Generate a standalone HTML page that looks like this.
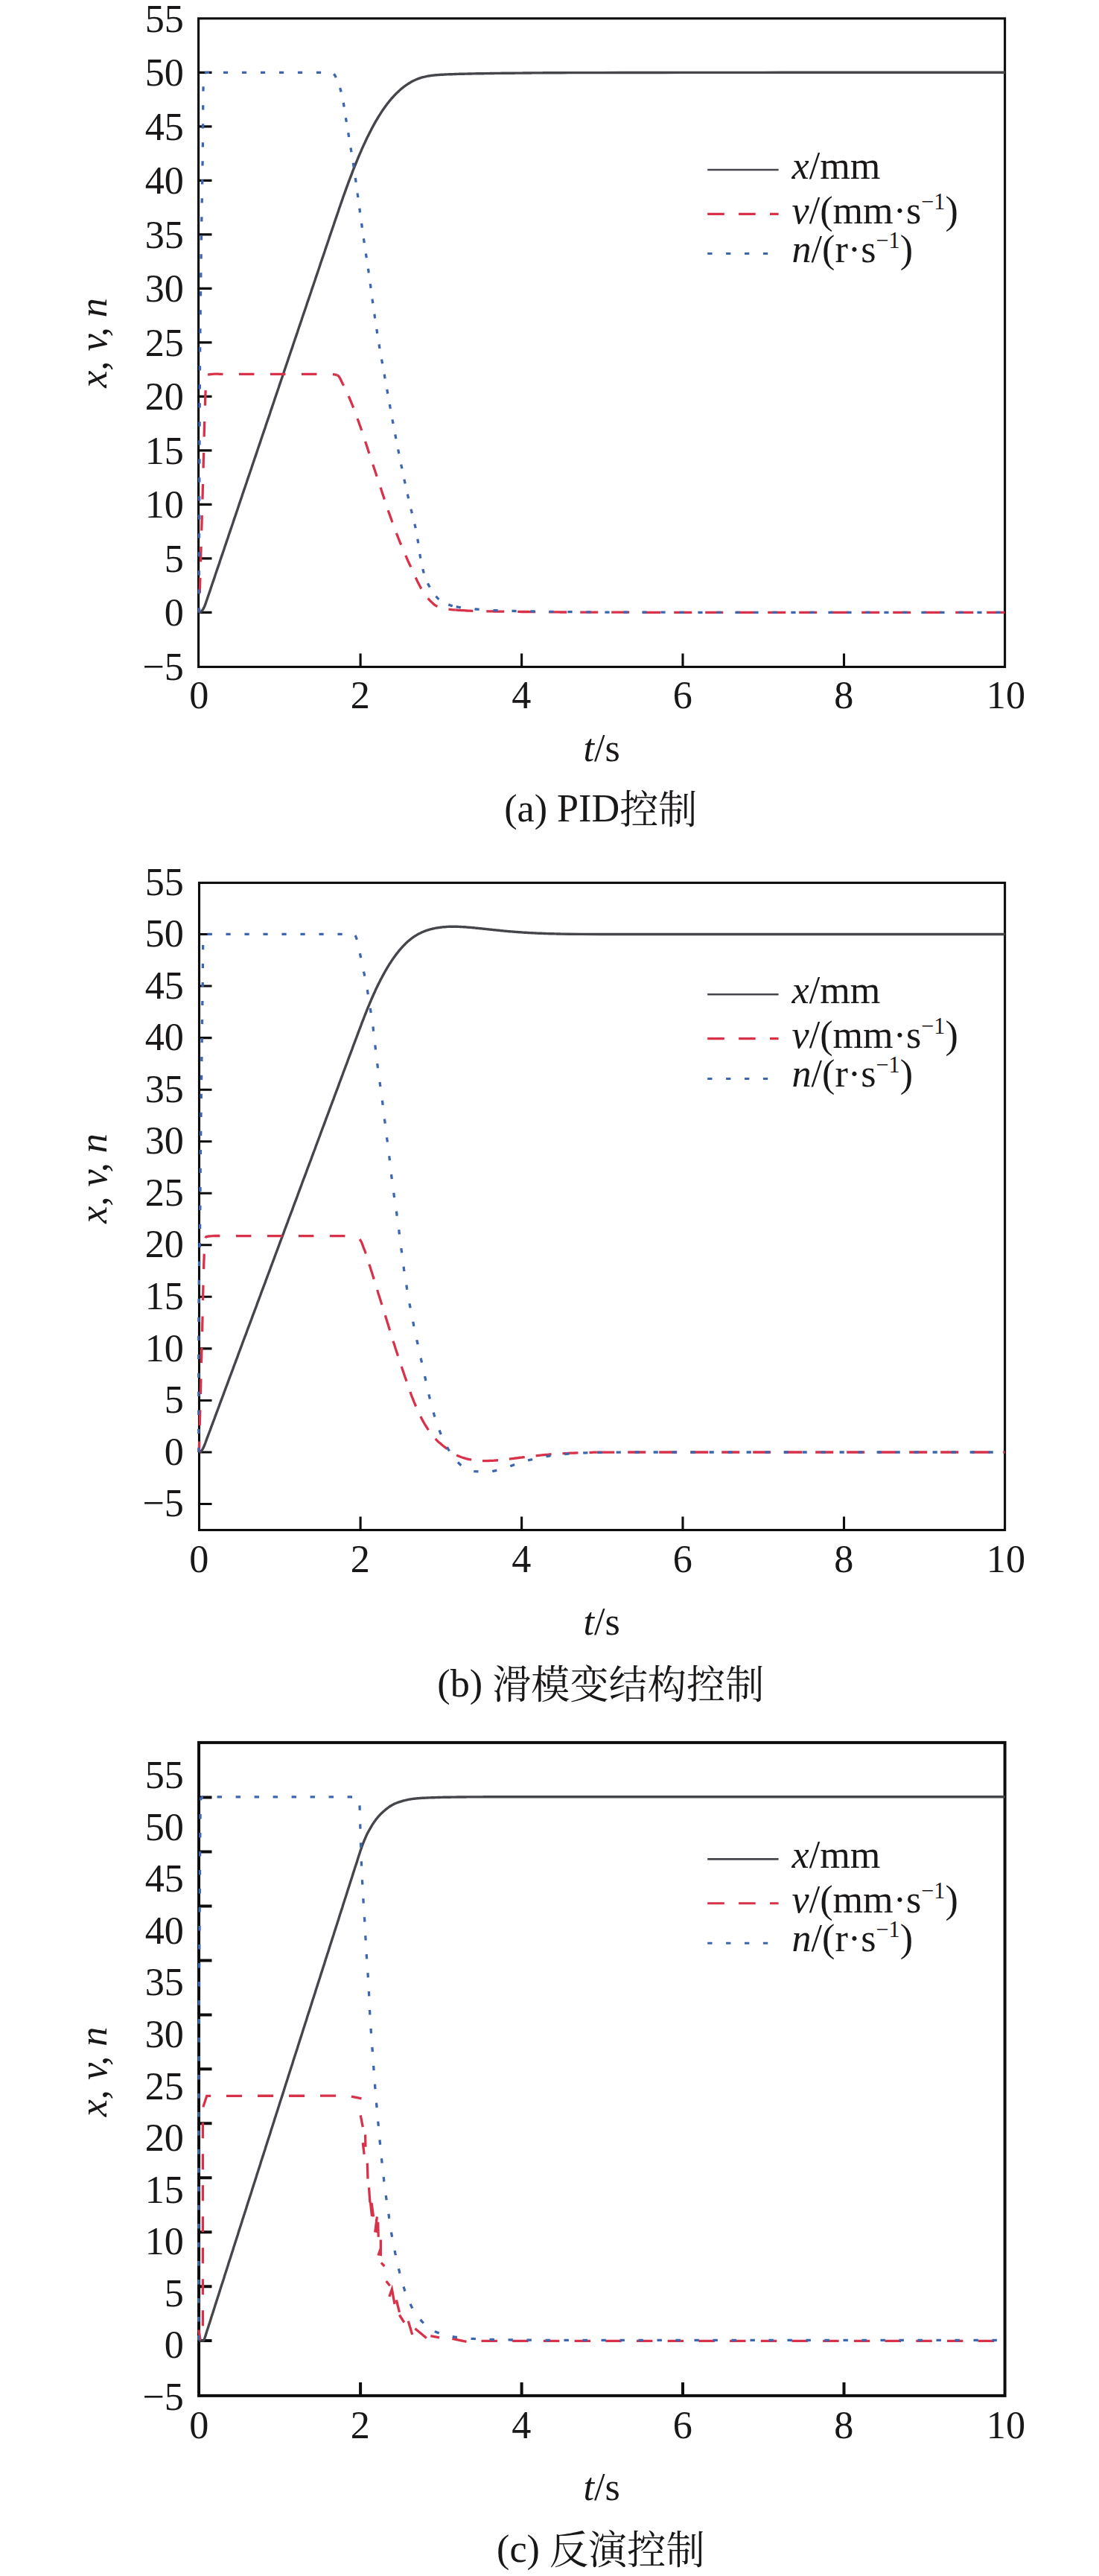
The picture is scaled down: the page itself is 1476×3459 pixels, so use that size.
<!DOCTYPE html>
<html lang="zh"><head><meta charset="utf-8"><title>figure</title>
<style>html,body{margin:0;padding:0;background:#fff}svg{display:block}</style></head>
<body>
<svg width="1476" height="3459" viewBox="0 0 1476 3459" font-family="'Liberation Serif', 'Noto Serif CJK SC', serif" font-size="53.5" fill="#1a1718">
<rect width="1476" height="3459" fill="#fff"/>
<rect x="266.6" y="24.8" width="1083.00" height="870.7" fill="none" stroke="#0d0d0d" stroke-width="3.1"/>
<path d="M266.6,822.4H284.5 M266.6,749.9H284.5 M266.6,677.4H284.5 M266.6,604.9H284.5 M266.6,532.4H284.5 M266.6,459.9H284.5 M266.6,387.4H284.5 M266.6,314.9H284.5 M266.6,242.4H284.5 M266.6,169.9H284.5 M266.6,97.4H284.5 M484.1,895.5v-18 M700.6,895.5v-18 M917.0,895.5v-18 M1133.5,895.5v-18 " stroke="#0d0d0d" stroke-width="3.1" fill="none"/>
<path d="M267.3,822.4 L268.4,822.3 L269.5,821.8 L270.5,820.9 L271.6,819.7 L272.7,818.1 L273.8,816.1 L274.9,813.7 L276.0,810.9 L277.0,807.8 L278.1,804.7 L279.2,801.5 L280.3,798.3 L281.4,795.1 L282.5,791.9 L283.5,788.7 L284.6,785.5 L285.7,782.3 L286.8,779.1 L287.9,775.9 L288.9,772.7 L290.0,769.5 L291.1,766.3 L292.2,763.1 L293.3,759.9 L294.4,756.7 L295.4,753.5 L296.5,750.3 L297.6,747.1 L298.7,743.9 L299.8,740.7 L300.9,737.5 L301.9,734.3 L303.0,731.1 L304.1,727.9 L305.2,724.7 L306.3,721.5 L307.3,718.3 L308.4,715.1 L309.5,711.9 L310.6,708.7 L311.7,705.5 L312.8,702.3 L313.8,699.1 L314.9,695.9 L316.0,692.7 L317.1,689.5 L318.2,686.3 L319.3,683.1 L320.3,679.9 L321.4,676.6 L322.5,673.4 L323.6,670.2 L324.7,667.0 L325.7,663.8 L326.8,660.6 L327.9,657.4 L329.0,654.2 L330.1,651.0 L331.2,647.8 L332.2,644.6 L333.3,641.4 L334.4,638.2 L335.5,635.0 L336.6,631.8 L337.7,628.6 L338.7,625.4 L339.8,622.2 L340.9,619.0 L342.0,615.8 L343.1,612.6 L344.2,609.4 L345.2,606.2 L346.3,603.0 L347.4,599.8 L348.5,596.6 L349.6,593.4 L350.6,590.2 L351.7,587.0 L352.8,583.8 L353.9,580.6 L355.0,577.4 L356.1,574.2 L357.1,571.0 L358.2,567.8 L359.3,564.6 L360.4,561.4 L361.5,558.2 L362.6,555.0 L363.6,551.8 L364.7,548.6 L365.8,545.4 L366.9,542.2 L368.0,539.0 L369.0,535.8 L370.1,532.6 L371.2,529.4 L372.3,526.2 L373.4,523.0 L374.5,519.8 L375.5,516.6 L376.6,513.4 L377.7,510.2 L378.8,507.0 L379.9,503.8 L381.0,500.6 L382.0,497.4 L383.1,494.2 L384.2,491.0 L385.3,487.8 L386.4,484.6 L387.4,481.4 L388.5,478.2 L389.6,475.0 L390.7,471.8 L391.8,468.6 L392.9,465.4 L393.9,462.2 L395.0,459.0 L396.1,455.8 L397.2,452.6 L398.3,449.4 L399.4,446.2 L400.4,443.0 L401.5,439.8 L402.6,436.6 L403.7,433.4 L404.8,430.2 L405.8,427.0 L406.9,423.8 L408.0,420.6 L409.1,417.4 L410.2,414.2 L411.3,411.0 L412.3,407.8 L413.4,404.6 L414.5,401.4 L415.6,398.2 L416.7,395.0 L417.8,391.8 L418.8,388.6 L419.9,385.4 L421.0,382.2 L422.1,379.0 L423.2,375.8 L424.2,372.6 L425.3,369.4 L426.4,366.2 L427.5,363.0 L428.6,359.8 L429.7,356.5 L430.7,353.3 L431.8,350.1 L432.9,346.9 L434.0,343.7 L435.1,340.5 L436.2,337.3 L437.2,334.1 L438.3,330.9 L439.4,327.7 L440.5,324.5 L441.6,321.3 L442.6,318.1 L443.7,314.9 L444.8,311.7 L445.9,308.5 L447.0,305.3 L448.1,302.1 L449.1,298.9 L450.2,295.8 L451.3,292.6 L452.4,289.4 L453.5,286.2 L454.6,283.0 L455.6,279.8 L456.7,276.7 L457.8,273.5 L458.9,270.4 L460.0,267.3 L461.0,264.3 L462.1,261.2 L463.2,258.2 L464.3,255.2 L465.4,252.2 L466.5,249.2 L467.5,246.3 L468.6,243.3 L469.7,240.5 L470.8,237.6 L471.9,234.8 L473.0,231.9 L474.0,229.2 L475.1,226.4 L476.2,223.7 L477.3,221.0 L478.4,218.3 L479.5,215.6 L480.5,213.0 L481.6,210.4 L482.7,207.9 L483.8,205.4 L484.9,202.9 L485.9,200.4 L487.0,198.0 L488.1,195.6 L489.2,193.2 L490.3,190.9 L491.4,188.6 L492.4,186.3 L493.5,184.1 L494.6,181.9 L495.7,179.7 L496.8,177.6 L497.9,175.5 L498.9,173.4 L500.0,171.4 L501.1,169.3 L502.2,167.4 L503.3,165.4 L504.3,163.5 L505.4,161.7 L506.5,159.8 L507.6,158.0 L508.7,156.2 L509.8,154.5 L510.8,152.8 L511.9,151.1 L513.0,149.4 L514.1,147.8 L515.2,146.3 L516.3,144.7 L517.3,143.2 L518.4,141.7 L519.5,140.3 L520.6,138.8 L521.7,137.5 L522.7,136.1 L523.8,134.8 L524.9,133.5 L526.0,132.2 L527.1,131.0 L528.2,129.8 L529.2,128.6 L530.3,127.5 L531.4,126.3 L532.5,125.3 L533.6,124.2 L534.7,123.2 L535.7,122.2 L536.8,121.2 L537.9,120.3 L539.0,119.3 L540.1,118.4 L541.1,117.6 L542.2,116.7 L543.3,115.9 L544.4,115.1 L545.5,114.3 L546.6,113.6 L547.6,112.9 L548.7,112.2 L549.8,111.5 L550.9,110.9 L552.0,110.2 L553.1,109.6 L554.1,109.1 L555.2,108.5 L556.3,108.0 L557.4,107.5 L558.5,107.0 L559.5,106.5 L560.6,106.1 L561.7,105.7 L562.8,105.3 L563.9,104.9 L565.0,104.5 L566.0,104.2 L567.1,103.9 L568.2,103.6 L569.3,103.3 L570.4,103.1 L571.5,102.8 L572.5,102.6 L573.6,102.4 L574.7,102.2 L575.8,102.0 L576.9,101.8 L577.9,101.7 L579.0,101.5 L580.1,101.4 L581.2,101.2 L582.3,101.1 L583.4,101.0 L584.4,100.9 L585.5,100.8 L586.6,100.7 L587.7,100.6 L588.8,100.5 L589.9,100.5 L590.9,100.4 L592.0,100.3 L593.1,100.3 L594.2,100.2 L595.3,100.2 L596.3,100.1 L597.4,100.0 L598.5,100.0 L599.6,99.9 L600.7,99.9 L601.8,99.9 L602.8,99.8 L603.9,99.8 L605.0,99.7 L606.1,99.7 L607.2,99.7 L608.3,99.6 L609.3,99.6 L610.4,99.5 L611.5,99.5 L612.6,99.5 L613.7,99.4 L614.8,99.4 L615.8,99.4 L616.9,99.3 L618.0,99.3 L619.1,99.3 L620.2,99.3 L621.2,99.2 L622.3,99.2 L623.4,99.2 L624.5,99.1 L625.6,99.1 L626.7,99.1 L627.7,99.1 L628.8,99.0 L629.9,99.0 L631.0,99.0 L632.1,99.0 L633.2,99.0 L634.2,98.9 L635.3,98.9 L636.4,98.9 L637.5,98.9 L638.6,98.9 L639.6,98.8 L640.7,98.8 L641.8,98.8 L642.9,98.8 L644.0,98.8 L645.1,98.7 L646.1,98.7 L647.2,98.7 L648.3,98.7 L649.4,98.7 L650.5,98.6 L651.6,98.6 L652.6,98.6 L653.7,98.6 L654.8,98.6 L655.9,98.6 L657.0,98.6 L658.0,98.5 L659.1,98.5 L660.2,98.5 L661.3,98.5 L662.4,98.5 L663.5,98.5 L664.5,98.4 L665.6,98.4 L666.7,98.4 L667.8,98.4 L668.9,98.4 L670.0,98.4 L671.0,98.4 L672.1,98.4 L673.2,98.3 L674.3,98.3 L675.4,98.3 L676.4,98.3 L677.5,98.3 L678.6,98.3 L679.7,98.3 L680.8,98.3 L681.9,98.2 L682.9,98.2 L684.0,98.2 L685.1,98.2 L686.2,98.2 L687.3,98.2 L688.4,98.2 L689.4,98.2 L690.5,98.2 L691.6,98.1 L692.7,98.1 L693.8,98.1 L694.8,98.1 L695.9,98.1 L697.0,98.1 L698.1,98.1 L699.2,98.1 L700.3,98.1 L701.3,98.1 L702.4,98.0 L703.5,98.0 L704.6,98.0 L705.7,98.0 L706.8,98.0 L707.8,98.0 L708.9,98.0 L710.0,98.0 L711.1,98.0 L712.2,98.0 L713.2,98.0 L714.3,97.9 L715.4,97.9 L716.5,97.9 L717.6,97.9 L718.7,97.9 L719.7,97.9 L720.8,97.9 L721.9,97.9 L723.0,97.9 L724.1,97.9 L725.2,97.9 L726.2,97.9 L727.3,97.9 L728.4,97.9 L729.5,97.8 L730.6,97.8 L731.6,97.8 L732.7,97.8 L733.8,97.8 L734.9,97.8 L736.0,97.8 L737.1,97.8 L738.1,97.8 L739.2,97.8 L740.3,97.8 L741.4,97.8 L742.5,97.8 L743.6,97.8 L744.6,97.8 L745.7,97.8 L746.8,97.8 L747.9,97.8 L749.0,97.7 L750.1,97.7 L751.1,97.7 L752.2,97.7 L753.3,97.7 L754.4,97.7 L781.4,97.6 L808.5,97.6 L835.6,97.5 L862.6,97.5 L889.7,97.5 L916.7,97.4 L943.8,97.4 L970.9,97.4 L997.9,97.4 L1025.0,97.4 L1052.0,97.3 L1079.1,97.3 L1106.2,97.3 L1133.2,97.3 L1160.3,97.3 L1187.3,97.3 L1214.4,97.3 L1241.5,97.3 L1268.5,97.3 L1295.6,97.3 L1322.6,97.3 L1349.7,97.3" fill="none" stroke="#45464b" stroke-width="3.4" stroke-linejoin="round"/>
<path d="M267.5,822.4 L267.6,820.1 L267.6,817.8 L267.7,815.5 L267.8,813.3 L267.8,811.0 L267.9,808.7 L268.0,806.4 L268.0,804.1 L268.1,801.8 L268.2,799.5 L268.2,797.3 L268.3,795.0 L268.4,792.7 L268.4,790.4 L268.5,788.1 L268.6,785.8 L268.6,783.6 L268.7,781.3 L268.8,779.0 L268.8,776.7 L268.9,774.4 L269.0,772.1 L269.0,769.8 L269.1,767.6 L269.2,765.3 L269.2,763.0 L269.3,760.7 L269.4,758.4 L269.4,756.1 L269.5,753.8 L269.6,751.6 L269.6,749.3 L269.7,747.0 L269.8,744.7 L269.8,742.4 L269.9,740.1 L270.0,737.9 L270.0,735.6 L270.1,733.3 L270.2,731.0 L270.2,728.7 L270.3,726.4 L270.4,724.1 L270.4,721.9 L270.5,719.6 L270.6,717.3 L270.6,715.0 L270.7,712.7 L270.8,710.4 L270.8,708.1 L270.9,705.9 L271.0,703.6 L271.0,701.3 L271.1,699.0 L271.2,696.7 L271.2,694.4 L271.3,692.2 L271.4,689.9 L271.4,687.6 L271.5,685.3 L271.6,683.0 L271.6,680.7 L271.7,678.4 L271.8,676.2 L271.8,673.9 L271.9,671.6 L272.0,669.3 L272.0,667.0 L272.1,664.7 L272.2,662.4 L272.2,660.2 L272.3,657.9 L272.3,655.6 L272.4,653.3 L272.5,651.0 L272.5,648.7 L272.6,646.4 L272.7,644.2 L272.7,641.9 L272.8,639.6 L272.8,637.3 L272.9,635.0 L272.9,632.7 L273.0,630.4 L273.1,628.2 L273.1,625.9 L273.2,623.6 L273.2,621.3 L273.3,619.0 L273.3,616.7 L273.4,614.4 L273.5,612.2 L273.5,609.9 L273.6,607.6 L273.6,605.3 L273.7,603.0 L273.7,600.7 L273.8,598.5 L273.9,596.2 L273.9,593.9 L274.0,591.6 L274.0,589.3 L274.1,587.0 L274.2,584.7 L274.2,582.5 L274.3,580.2 L274.4,577.9 L274.4,575.6 L274.5,573.3 L274.5,571.0 L274.6,568.7 L274.7,566.5 L274.7,564.2 L274.8,561.9 L274.9,559.6 L275.0,557.3 L275.0,555.0 L275.1,552.7 L275.2,550.5 L275.3,548.2 L275.3,545.9 L275.4,543.6 L275.5,541.3 L275.6,539.0 L275.6,536.8 L275.7,534.5 L275.8,532.2 L275.9,529.9 L276.0,527.6 L276.1,525.3 L276.2,523.1 L276.3,520.8 L276.4,518.5 L276.4,516.2 L276.6,513.9 L276.7,511.6 L276.9,509.3 L277.2,506.8 L277.9,504.3 L278.8,503.3 L280.5,502.9 L282.8,502.6 L285.5,502.3 L288.1,502.2 L290.5,502.2 L292.8,502.2 L295.1,502.3 L297.4,502.3 L299.7,502.3 L302.0,502.3 L304.3,502.3 L306.5,502.3 L308.8,502.3 L311.1,502.3 L313.4,502.3 L315.7,502.3 L318.0,502.3 L320.3,502.3 L322.6,502.3 L324.8,502.3 L327.1,502.3 L329.4,502.3 L331.7,502.3 L334.0,502.3 L336.3,502.3 L338.6,502.3 L340.8,502.3 L343.1,502.3 L345.4,502.3 L347.7,502.3 L350.0,502.3 L352.3,502.3 L354.6,502.3 L356.8,502.3 L359.1,502.3 L361.4,502.3 L363.7,502.3 L366.0,502.3 L368.3,502.3 L370.6,502.3 L372.9,502.3 L375.1,502.3 L377.4,502.3 L379.7,502.3 L382.0,502.3 L384.3,502.3 L386.6,502.3 L388.9,502.3 L391.2,502.3 L393.4,502.3 L395.7,502.3 L398.0,502.3 L400.3,502.3 L402.6,502.3 L404.9,502.3 L407.2,502.3 L409.5,502.3 L411.7,502.3 L414.0,502.3 L416.3,502.3 L418.6,502.3 L420.9,502.3 L423.2,502.3 L425.5,502.3 L427.7,502.3 L430.0,502.3 L432.3,502.3 L434.6,502.3 L436.9,502.3 L439.1,502.3 L441.5,502.3 L443.9,502.4 L446.4,502.6 L448.8,502.9 L450.9,503.2 L452.7,503.6" fill="none" stroke="#d8324a" stroke-width="3.3" stroke-dasharray="20.5 21.5" stroke-dashoffset="16" stroke-linejoin="round"/>
<path d="M452.7,503.6 L454.2,504.5 L455.6,506.2 L456.9,508.3 L458.0,510.7 L459.1,513.0 L460.2,515.2 L461.3,517.2 L462.4,519.2 L463.4,521.2 L464.4,523.3 L465.3,525.4 L466.3,527.5 L467.2,529.6 L468.1,531.7 L469.0,533.8 L469.9,535.9 L470.8,538.0 L471.7,540.1 L472.5,542.2 L473.4,544.4 L474.2,546.5 L475.1,548.6 L475.9,550.7 L476.7,552.9 L477.5,555.0 L478.3,557.2 L479.1,559.3 L479.9,561.5 L480.6,563.6 L481.4,565.8 L482.2,567.9 L482.9,570.1 L483.7,572.2 L484.5,574.4 L485.2,576.5 L485.9,578.7 L486.7,580.9 L487.4,583.0 L488.1,585.2 L488.8,587.4 L489.5,589.6 L490.3,591.7 L491.0,593.9 L491.7,596.1 L492.4,598.2 L493.1,600.4 L493.8,602.6 L494.5,604.8 L495.2,606.9 L496.0,609.1 L496.7,611.3 L497.4,613.4 L498.1,615.6 L498.9,617.8 L499.6,620.0 L500.3,622.1 L501.0,624.3 L501.7,626.5 L502.4,628.6 L503.2,630.8 L503.9,633.0 L504.6,635.1 L505.3,637.3 L506.0,639.5 L506.8,641.7 L507.5,643.8 L508.2,646.0 L508.9,648.2 L509.6,650.3 L510.4,652.5 L511.1,654.7 L511.8,656.8 L512.5,659.0 L513.2,661.2 L513.9,663.4 L514.7,665.5 L515.4,667.7 L516.1,669.9 L516.8,672.0 L517.5,674.2 L518.3,676.4 L519.0,678.5 L519.7,680.7 L520.5,682.9 L521.2,685.0 L521.9,687.2 L522.7,689.4 L523.5,691.5 L524.2,693.7 L525.0,695.8 L525.8,698.0 L526.5,700.1 L527.3,702.3 L528.1,704.4 L528.9,706.6 L529.7,708.7 L530.5,710.9 L531.3,713.0 L532.1,715.1 L532.9,717.3 L533.8,719.4 L534.6,721.5 L535.4,723.7 L536.3,725.8 L537.1,727.9 L538.0,730.0 L538.9,732.1 L539.7,734.2 L540.6,736.3 L541.5,738.4 L542.4,740.5 L543.3,742.6 L544.2,744.7 L545.2,746.8 L546.1,748.9 L547.0,751.0 L547.9,753.1 L548.9,755.2 L549.8,757.3 L550.8,759.3 L551.8,761.4 L552.7,763.5 L553.7,765.6 L554.6,767.6 L555.6,769.7 L556.6,771.8 L557.5,773.9 L558.5,776.0 L559.5,778.1 L560.4,780.2 L561.5,782.2 L562.5,784.3 L563.5,786.3 L564.6,788.3 L565.7,790.3 L566.9,792.3 L568.0,794.2 L569.3,796.1 L570.6,798.0 L571.9,799.8 L573.3,801.7 L574.8,803.5 L576.3,805.2 L577.8,806.8 L579.5,808.4 L581.2,810.0 L582.9,811.6 L584.8,812.9 L586.7,814.0 L588.8,814.9 L590.9,815.7 L593.1,816.4 L595.4,817.0 L597.6,817.4 L599.9,817.8 L602.1,818.1 L604.4,818.3 L606.7,818.6 L609.0,818.8 L611.3,818.9" fill="none" stroke="#d8324a" stroke-width="3.3" stroke-dasharray="17 15.5" stroke-dashoffset="0" stroke-linejoin="round"/>
<path d="M611.3,818.9 L613.5,819.1 L615.8,819.3 L618.1,819.4 L620.4,819.6 L622.7,819.7 L624.9,819.8 L627.2,820.0 L629.5,820.1 L631.8,820.2 L634.1,820.3 L636.4,820.4 L638.7,820.4 L640.9,820.5 L643.2,820.5 L645.5,820.6 L647.8,820.7 L650.1,820.7 L652.4,820.8 L654.6,820.8 L656.9,820.9 L659.2,820.9 L661.5,820.9 L663.8,821.0 L666.1,821.0 L668.4,821.1 L670.6,821.1 L672.9,821.1 L675.2,821.2 L677.5,821.2 L679.8,821.2 L682.1,821.2 L684.4,821.3 L686.6,821.3 L688.9,821.3 L691.2,821.4 L693.5,821.4 L695.8,821.4 L698.1,821.4 L700.4,821.5 L702.7,821.5 L704.9,821.5 L707.2,821.5 L709.5,821.5 L711.8,821.6 L714.1,821.6 L716.4,821.6 L718.7,821.6 L720.9,821.7 L723.2,821.7 L725.5,821.7 L727.8,821.7 L730.1,821.8 L732.4,821.8 L734.7,821.8 L736.9,821.8 L739.2,821.8 L741.5,821.9 L743.8,821.9 L746.1,821.9 L748.4,821.9 L750.7,821.9 L752.9,822.0 L755.2,822.0 L757.5,822.0 L759.8,822.0 L762.1,822.0 L764.4,822.1 L766.7,822.1 L768.9,822.1 L771.2,822.1 L773.5,822.1 L775.8,822.1 L778.1,822.1 L780.4,822.1 L782.7,822.2 L784.9,822.2 L787.2,822.2 L789.5,822.2 L791.8,822.2 L794.1,822.2 L796.4,822.2 L798.7,822.2 L800.9,822.2 L803.2,822.2 L805.5,822.2 L807.8,822.2 L810.1,822.2 L812.4,822.2 L814.7,822.2 L817.0,822.2 L819.2,822.2 L821.5,822.2 L823.8,822.2 L826.1,822.2 L828.4,822.2 L830.7,822.2 L833.0,822.2 L835.2,822.2 L837.5,822.2 L839.8,822.2 L842.1,822.2 L844.4,822.2 L846.7,822.2 L849.0,822.2 L851.2,822.2 L853.5,822.2 L855.8,822.2 L858.1,822.2 L860.4,822.2 L862.7,822.3 L865.0,822.3 L867.2,822.3 L869.5,822.3 L871.8,822.3 L874.1,822.3 L876.4,822.3 L878.7,822.3 L881.0,822.3 L883.2,822.3 L885.5,822.3 L887.8,822.3 L890.1,822.3 L892.4,822.3 L894.7,822.3 L897.0,822.3 L899.2,822.3 L901.5,822.3 L903.8,822.3 L906.1,822.3 L908.4,822.3 L910.7,822.3 L913.0,822.3 L915.2,822.3 L917.5,822.3 L919.8,822.3 L922.1,822.3 L924.4,822.3 L926.7,822.3 L929.0,822.3 L931.3,822.3 L933.5,822.3 L935.8,822.3 L938.1,822.3 L940.4,822.3 L942.7,822.3 L945.0,822.3 L947.3,822.3 L949.5,822.3 L951.8,822.3 L954.1,822.3 L956.4,822.3 L958.7,822.3 L961.0,822.3 L963.3,822.3 L965.5,822.3 L967.8,822.3 L970.1,822.3 L972.4,822.3 L974.7,822.3 L977.0,822.3 L979.3,822.3 L981.5,822.3 L983.8,822.3 L986.1,822.3 L988.4,822.3 L990.7,822.3 L993.0,822.3 L995.3,822.3 L997.5,822.3 L999.8,822.3 L1002.1,822.3 L1004.4,822.3 L1006.7,822.3 L1009.0,822.3 L1011.3,822.3 L1013.5,822.3 L1015.8,822.3 L1018.1,822.3 L1020.4,822.3 L1022.7,822.3 L1025.0,822.3 L1027.3,822.3 L1029.6,822.3 L1031.8,822.3 L1034.1,822.3 L1036.4,822.3 L1038.7,822.3 L1041.0,822.3 L1043.3,822.3 L1045.6,822.4 L1047.8,822.4 L1050.1,822.4 L1052.4,822.4 L1054.7,822.4 L1057.0,822.4 L1059.3,822.4 L1061.6,822.4 L1063.8,822.4 L1066.1,822.4 L1068.4,822.4 L1070.7,822.4 L1073.0,822.4 L1075.3,822.4 L1077.6,822.4 L1079.8,822.4 L1082.1,822.4 L1084.4,822.4 L1086.7,822.4 L1089.0,822.4 L1091.3,822.4 L1093.6,822.4 L1095.8,822.4 L1098.1,822.4 L1100.4,822.4 L1102.7,822.4 L1105.0,822.4 L1107.3,822.4 L1109.6,822.4 L1111.8,822.4 L1114.1,822.4 L1116.4,822.4 L1118.7,822.4 L1121.0,822.4 L1123.3,822.4 L1125.6,822.4 L1127.9,822.4 L1130.1,822.4 L1132.4,822.4 L1134.7,822.4 L1137.0,822.4 L1139.3,822.4 L1141.6,822.4 L1143.9,822.4 L1146.1,822.4 L1148.4,822.4 L1150.7,822.4 L1153.0,822.4 L1155.3,822.4 L1157.6,822.4 L1159.9,822.4 L1162.1,822.4 L1164.4,822.4 L1166.7,822.4 L1169.0,822.4 L1171.3,822.4 L1173.6,822.4 L1175.9,822.4 L1178.1,822.4 L1180.4,822.4 L1182.7,822.4 L1185.0,822.4 L1187.3,822.4 L1189.6,822.4 L1191.9,822.4 L1194.1,822.4 L1196.4,822.4 L1198.7,822.4 L1201.0,822.4 L1203.3,822.4 L1205.6,822.4 L1207.9,822.4 L1210.1,822.4 L1212.4,822.4 L1214.7,822.4 L1217.0,822.4 L1219.3,822.4 L1221.6,822.4 L1223.9,822.4 L1226.2,822.4 L1228.4,822.4 L1230.7,822.4 L1233.0,822.4 L1235.3,822.4 L1237.6,822.4 L1239.9,822.4 L1242.2,822.4 L1244.4,822.4 L1246.7,822.4 L1249.0,822.4 L1251.3,822.4 L1253.6,822.4 L1255.9,822.4 L1258.2,822.4 L1260.4,822.4 L1262.7,822.4 L1265.0,822.4 L1267.3,822.4 L1269.6,822.4 L1271.9,822.4 L1274.2,822.4 L1276.4,822.4 L1278.7,822.4 L1281.0,822.4 L1283.3,822.4 L1285.6,822.4 L1287.9,822.4 L1290.2,822.4 L1292.4,822.4 L1294.7,822.4 L1297.0,822.4 L1299.3,822.4 L1301.6,822.4 L1303.9,822.4 L1306.2,822.4 L1308.5,822.4 L1310.7,822.4 L1313.0,822.4 L1315.3,822.4 L1317.6,822.4 L1319.9,822.4 L1322.2,822.4 L1324.5,822.4 L1326.7,822.4 L1329.0,822.4 L1331.3,822.4 L1333.6,822.4 L1335.9,822.4 L1338.2,822.4 L1340.5,822.4 L1342.7,822.4 L1345.0,822.4 L1347.3,822.4 L1349.6,822.4" fill="none" stroke="#d8324a" stroke-width="3.3" stroke-dasharray="24 18" stroke-dashoffset="0" stroke-linejoin="round"/>
<path d="M267.3,822.4 L267.3,819.7 L267.3,817.1 L267.3,814.4 L267.3,811.8 L267.3,809.1 L267.3,806.5 L267.3,803.8 L267.3,801.2 L267.3,798.5 L267.4,795.9 L267.4,793.2 L267.4,790.6 L267.4,787.9 L267.4,785.3 L267.4,782.6 L267.4,780.0 L267.4,777.3 L267.4,774.7 L267.4,772.0 L267.4,769.4 L267.4,766.7 L267.4,764.1 L267.4,761.4 L267.4,758.8 L267.4,756.1 L267.4,753.5 L267.5,750.8 L267.5,748.2 L267.5,745.5 L267.5,742.9 L267.5,740.2 L267.5,737.5 L267.5,734.9 L267.5,732.2 L267.5,729.6 L267.5,726.9 L267.5,724.3 L267.5,721.6 L267.5,719.0 L267.6,716.3 L267.6,713.7 L267.6,711.0 L267.6,708.4 L267.6,705.7 L267.6,703.1 L267.6,700.4 L267.6,697.8 L267.6,695.1 L267.6,692.5 L267.6,689.8 L267.6,687.2 L267.6,684.5 L267.7,681.9 L267.7,679.2 L267.7,676.6 L267.7,673.9 L267.7,671.3 L267.7,668.6 L267.7,666.0 L267.7,663.3 L267.7,660.7 L267.7,658.0 L267.7,655.3 L267.8,652.7 L267.8,650.0 L267.8,647.4 L267.8,644.7 L267.8,642.1 L267.8,639.4 L267.8,636.8 L267.8,634.1 L267.8,631.5 L267.8,628.8 L267.8,626.2 L267.9,623.5 L267.9,620.9 L267.9,618.2 L267.9,615.6 L267.9,612.9 L267.9,610.3 L267.9,607.6 L267.9,605.0 L267.9,602.3 L268.0,599.7 L268.0,597.0 L268.0,594.4 L268.0,591.7 L268.0,589.1 L268.0,586.4 L268.0,583.8 L268.0,581.1 L268.0,578.5 L268.1,575.8 L268.1,573.2 L268.1,570.5 L268.1,567.8 L268.1,565.2 L268.1,562.5 L268.1,559.9 L268.1,557.2 L268.2,554.6 L268.2,551.9 L268.2,549.3 L268.2,546.6 L268.2,544.0 L268.2,541.3 L268.2,538.7 L268.3,536.0 L268.3,533.4 L268.3,530.7 L268.3,528.1 L268.3,525.4 L268.3,522.8 L268.3,520.1 L268.4,517.5 L268.4,514.8 L268.4,512.2 L268.4,509.5 L268.4,506.9 L268.4,504.2 L268.5,501.6 L268.5,498.9 L268.5,496.3 L268.5,493.6 L268.5,491.0 L268.5,488.3 L268.6,485.6 L268.6,483.0 L268.6,480.3 L268.6,477.7 L268.6,475.0 L268.7,472.4 L268.7,469.7 L268.7,467.1 L268.7,464.4 L268.7,461.8 L268.8,459.1 L268.8,456.5 L268.8,453.8 L268.8,451.2 L268.9,448.5 L268.9,445.9 L268.9,443.2 L269.0,440.6 L269.0,437.9 L269.0,435.3 L269.0,432.6 L269.1,430.0 L269.1,427.3 L269.1,424.7 L269.2,422.0 L269.2,419.4 L269.2,416.7 L269.2,414.1 L269.3,411.4 L269.3,408.8 L269.3,406.1 L269.4,403.5 L269.4,400.8 L269.4,398.2 L269.5,395.5 L269.5,392.8 L269.5,390.2 L269.6,387.5 L269.6,384.9 L269.6,382.2 L269.7,379.6 L269.7,376.9 L269.7,374.3 L269.8,371.6 L269.8,369.0 L269.8,366.3 L269.9,363.7 L269.9,361.0 L269.9,358.4 L270.0,355.7 L270.0,353.1 L270.0,350.4 L270.1,347.8 L270.1,345.1 L270.1,342.5 L270.2,339.8 L270.2,337.2 L270.2,334.5 L270.3,331.9 L270.3,329.2 L270.3,326.6 L270.4,323.9 L270.4,321.3 L270.5,318.6 L270.5,316.0 L270.5,313.3 L270.6,310.7 L270.6,308.0 L270.7,305.4 L270.7,302.7 L270.7,300.0 L270.8,297.4 L270.8,294.7 L270.9,292.1 L270.9,289.4 L271.0,286.8 L271.0,284.1 L271.0,281.5 L271.1,278.8 L271.1,276.2 L271.2,273.5 L271.2,270.9 L271.3,268.2 L271.3,265.6 L271.4,262.9 L271.4,260.3 L271.5,257.6 L271.5,255.0 L271.5,252.3 L271.6,249.7 L271.6,247.0 L271.7,244.4 L271.7,241.7 L271.8,239.1 L271.8,236.4 L271.8,233.8 L271.9,231.1 L271.9,228.5 L272.0,225.8 L272.0,223.2 L272.0,220.5 L272.1,217.9 L272.1,215.2 L272.1,212.6 L272.2,209.9 L272.2,207.3 L272.2,204.6 L272.3,202.0 L272.3,199.3 L272.3,196.6 L272.4,194.0 L272.4,191.3 L272.4,188.7 L272.4,186.0 L272.5,183.4 L272.5,180.7 L272.5,178.1 L272.5,175.4 L272.5,172.8 L272.5,170.1 L272.6,167.5 L272.6,164.8 L272.6,162.2 L272.6,159.5 L272.6,156.9 L272.6,154.2 L272.6,151.6 L272.7,148.9 L272.7,146.3 L272.7,143.6 L272.7,141.0 L272.8,138.3 L272.8,135.7 L272.8,133.0 L272.8,130.4 L272.9,127.7 L272.9,125.1 L272.9,122.4 L273.0,119.8 L273.0,117.1 L273.1,114.5 L273.1,111.8 L273.2,109.0 L273.2,106.1 L273.4,103.2 L273.5,100.8 L274.1,98.8 L276.7,97.4 L279.1,97.4 L281.5,97.4 L284.0,97.4 L286.5,97.4 L289.0,97.4 L291.6,97.4 L294.1,97.4 L296.8,97.4 L299.4,97.4 L302.0,97.4 L304.7,97.4 L307.4,97.4 L310.1,97.4 L312.8,97.4 L315.6,97.4 L318.3,97.4 L321.0,97.4 L323.8,97.4 L326.5,97.4 L329.3,97.4 L332.0,97.4 L334.8,97.4 L337.5,97.4 L340.2,97.4 L342.9,97.4 L345.6,97.4 L348.3,97.4 L350.9,97.4 L353.6,97.4 L356.2,97.4 L358.9,97.4 L361.5,97.4 L364.2,97.4 L366.9,97.4 L369.5,97.4 L372.2,97.4 L374.8,97.4 L377.5,97.4 L380.1,97.4 L382.8,97.4 L385.5,97.4 L388.1,97.4 L390.8,97.4 L393.4,97.4 L396.1,97.4 L398.7,97.4 L401.4,97.4 L404.1,97.4 L406.7,97.4 L409.4,97.4 L412.0,97.4 L414.7,97.4 L417.3,97.4 L420.0,97.4 L422.6,97.4 L425.3,97.4 L427.9,97.4 L430.5,97.4 L433.2,97.4 L435.8,97.4 L438.4,97.4 L441.1,97.4 L444.0,97.8 L446.5,98.3 L448.3,99.3" fill="none" stroke="#3d66b0" stroke-width="3.3" stroke-dasharray="6.2 18.8" stroke-dashoffset="0" stroke-linejoin="round"/>
<path d="M448.3,99.3 L449.9,101.3 L451.2,103.9 L452.4,106.7 L453.5,109.3 L454.4,111.7 L455.4,114.2 L456.2,116.7 L457.0,119.2 L457.7,121.8 L458.4,124.4 L459.0,127.0 L459.6,129.6 L460.1,132.1 L460.6,134.7 L461.1,137.3 L461.6,140.0 L462.0,142.6 L462.4,145.2 L462.8,147.8 L463.2,150.5 L463.6,153.1 L464.0,155.7 L464.4,158.3 L464.8,160.9 L465.3,163.6 L465.7,166.2 L466.2,168.8 L466.6,171.4 L467.0,174.0 L467.5,176.6 L467.9,179.3 L468.3,181.9 L468.7,184.5 L469.2,187.1 L469.6,189.7 L470.0,192.3 L470.5,195.0 L470.9,197.6 L471.3,200.2 L471.7,202.8 L472.1,205.4 L472.6,208.0 L473.0,210.7 L473.4,213.3 L473.8,215.9 L474.3,218.5 L474.7,221.1 L475.1,223.8 L475.5,226.4 L475.9,229.0 L476.3,231.6 L476.6,234.3 L477.0,236.9 L477.4,239.5 L477.7,242.1 L478.1,244.8 L478.5,247.4 L478.8,250.0 L479.2,252.6 L479.5,255.3 L479.9,257.9 L480.2,260.5 L480.6,263.2 L480.9,265.8 L481.3,268.4 L481.6,271.0 L482.0,273.7 L482.3,276.3 L482.7,278.9 L483.1,281.5 L483.4,284.2 L483.8,286.8 L484.1,289.4 L484.5,292.1 L484.8,294.7 L485.2,297.3 L485.6,299.9 L485.9,302.6 L486.3,305.2 L486.6,307.8 L487.0,310.4 L487.4,313.1 L487.7,315.7 L488.1,318.3 L488.5,320.9 L488.9,323.6 L489.2,326.2 L489.6,328.8 L490.0,331.4 L490.4,334.1 L490.8,336.7 L491.2,339.3 L491.6,341.9 L492.0,344.6 L492.4,347.2 L492.8,349.8 L493.2,352.4 L493.6,355.0 L494.0,357.7 L494.4,360.3 L494.8,362.9 L495.1,365.5 L495.5,368.2 L495.9,370.8 L496.3,373.4 L496.6,376.0 L497.0,378.7 L497.3,381.3 L497.7,383.9 L498.0,386.5 L498.4,389.2 L498.7,391.8 L499.1,394.4 L499.4,397.1 L499.8,399.7 L500.1,402.3 L500.5,404.9 L500.8,407.6 L501.2,410.2 L501.6,412.8 L501.9,415.5 L502.3,418.1 L502.7,420.7 L503.1,423.3 L503.4,425.9 L503.8,428.6 L504.2,431.2 L504.6,433.8 L505.0,436.4 L505.4,439.1 L505.8,441.7 L506.2,444.3 L506.6,446.9 L507.0,449.6 L507.4,452.2 L507.8,454.8 L508.2,457.4 L508.6,460.0 L509.1,462.6 L509.5,465.3 L509.9,467.9 L510.4,470.5 L510.8,473.1 L511.3,475.7 L511.8,478.3 L512.2,480.9 L512.7,483.5 L513.2,486.1 L513.7,488.8 L514.1,491.4 L514.6,494.0 L515.1,496.6 L515.5,499.2 L516.0,501.8 L516.5,504.4 L516.9,507.0 L517.4,509.6 L517.9,512.3 L518.3,514.9 L518.8,517.5 L519.2,520.1 L519.7,522.7 L520.2,525.3 L520.6,527.9 L521.1,530.5 L521.6,533.1 L522.0,535.7 L522.5,538.4 L523.0,541.0 L523.5,543.6 L523.9,546.2 L524.4,548.8 L524.9,551.4 L525.3,554.0 L525.8,556.6 L526.3,559.2 L526.8,561.8 L527.2,564.5 L527.7,567.1 L528.2,569.7 L528.7,572.3 L529.1,574.9 L529.6,577.5 L530.1,580.1 L530.6,582.7 L531.1,585.3 L531.6,587.9 L532.1,590.5 L532.6,593.1 L533.1,595.7 L533.6,598.3 L534.1,600.9 L534.6,603.5 L535.2,606.1 L535.7,608.7 L536.2,611.3 L536.7,613.9 L537.2,616.5 L537.8,619.1 L538.3,621.7 L538.8,624.3 L539.4,626.9 L539.9,629.5 L540.5,632.1 L541.0,634.7 L541.6,637.3 L542.1,639.9 L542.7,642.5 L543.2,645.1 L543.8,647.7 L544.4,650.3 L544.9,652.8 L545.5,655.4 L546.1,658.0 L546.7,660.6 L547.3,663.2 L547.8,665.8 L548.4,668.4 L549.0,671.0 L549.6,673.5 L550.2,676.1 L550.8,678.7 L551.4,681.3 L552.0,683.9 L552.7,686.4 L553.3,689.0 L554.0,691.6 L554.6,694.2 L555.2,696.7 L555.9,699.3 L556.5,701.9 L557.1,704.5 L557.7,707.1 L558.3,709.6 L558.8,712.2 L559.3,714.8 L559.8,717.4 L560.2,720.1 L560.7,722.7 L561.1,725.3 L561.5,727.9 L561.8,730.5 L562.2,733.2 L562.6,735.8 L563.0,738.4 L563.4,741.1 L563.8,743.7 L564.2,746.3 L564.7,748.9 L565.2,751.5 L565.7,754.1 L566.2,756.7 L566.8,759.3 L567.3,761.9 L567.9,764.5 L568.6,767.1 L569.3,769.7 L570.0,772.2 L570.8,774.7 L571.7,777.1 L572.7,779.6 L573.8,782.0 L575.0,784.4 L576.3,786.8 L577.6,789.1 L579.0,791.4 L580.4,793.6 L581.9,795.8 L583.5,798.1 L585.2,800.3 L586.9,802.3 L588.8,804.2 L590.7,805.8 L592.8,807.2 L595.0,808.5 L597.4,809.8 L599.8,810.9 L602.4,811.9 L605.0,812.8 L607.6,813.6 L610.1,814.2 L612.7,814.7" fill="none" stroke="#3d66b0" stroke-width="3.3" stroke-dasharray="5.8 14.7" stroke-dashoffset="0" stroke-linejoin="round"/>
<path d="M612.7,814.7 L615.2,815.2 L617.9,815.6 L620.5,816.0 L623.1,816.4 L625.8,816.7 L628.4,817.0 L631.1,817.3 L633.8,817.6 L636.4,817.8 L639.0,818.0 L641.7,818.2 L644.3,818.4 L647.0,818.5 L649.6,818.7 L652.3,818.9 L654.9,819.0 L657.6,819.2 L660.2,819.3 L662.9,819.5 L665.5,819.6 L668.2,819.7 L670.8,819.8 L673.5,819.9 L676.1,820.0 L678.8,820.1 L681.4,820.2 L684.1,820.3 L686.7,820.3 L689.4,820.4 L692.0,820.5 L694.7,820.5 L697.3,820.6 L700.0,820.7 L702.6,820.7 L705.3,820.8 L707.9,820.8 L710.6,820.9 L713.2,820.9 L715.9,821.0 L718.5,821.0 L721.2,821.0 L723.8,821.1 L726.5,821.1 L729.1,821.2 L731.8,821.2 L734.4,821.2 L737.1,821.3 L739.7,821.3 L742.4,821.3 L745.0,821.4 L747.7,821.4 L750.3,821.4 L753.0,821.5 L755.6,821.5 L758.3,821.5 L760.9,821.6 L763.6,821.6 L766.2,821.6 L768.9,821.6 L771.6,821.7 L774.2,821.7 L776.9,821.7 L779.5,821.8 L782.2,821.8 L784.8,821.8 L787.5,821.8 L790.1,821.9 L792.8,821.9 L795.4,821.9 L798.1,821.9 L800.7,822.0 L803.4,822.0 L806.0,822.0 L808.7,822.0 L811.3,822.0 L814.0,822.1 L816.6,822.1 L819.3,822.1 L821.9,822.1 L824.6,822.1 L827.2,822.1 L829.9,822.1 L832.5,822.2 L835.2,822.2 L837.8,822.2 L840.5,822.2 L843.1,822.2 L845.8,822.2 L848.4,822.2 L851.1,822.2 L853.8,822.2 L856.4,822.2 L859.1,822.2 L861.7,822.2 L864.4,822.2 L867.0,822.2 L869.7,822.2 L872.3,822.2 L875.0,822.2 L877.6,822.2 L880.3,822.2 L882.9,822.2 L885.6,822.2 L888.2,822.2 L890.9,822.2 L893.5,822.2 L896.2,822.2 L898.8,822.2 L901.5,822.2 L904.1,822.2 L906.8,822.2 L909.4,822.3 L912.1,822.3 L914.7,822.3 L917.4,822.3 L920.0,822.3 L922.7,822.3 L925.3,822.3 L928.0,822.3 L930.6,822.3 L933.3,822.3 L935.9,822.3 L938.6,822.3 L941.3,822.3 L943.9,822.3 L946.6,822.3 L949.2,822.3 L951.9,822.3 L954.5,822.3 L957.2,822.3 L959.8,822.3 L962.5,822.3 L965.1,822.3 L967.8,822.3 L970.4,822.3 L973.1,822.3 L975.7,822.3 L978.4,822.3 L981.0,822.3 L983.7,822.3 L986.3,822.3 L989.0,822.3 L991.6,822.3 L994.3,822.3 L996.9,822.3 L999.6,822.3 L1002.2,822.3 L1004.9,822.3 L1007.5,822.3 L1010.2,822.3 L1012.8,822.3 L1015.5,822.3 L1018.1,822.3 L1020.8,822.3 L1023.5,822.3 L1026.1,822.3 L1028.8,822.3 L1031.4,822.3 L1034.1,822.3 L1036.7,822.3 L1039.4,822.3 L1042.0,822.3 L1044.7,822.3 L1047.3,822.3 L1050.0,822.3 L1052.6,822.3 L1055.3,822.3 L1057.9,822.3 L1060.6,822.3 L1063.2,822.3 L1065.9,822.3 L1068.5,822.3 L1071.2,822.3 L1073.8,822.3 L1076.5,822.3 L1079.1,822.4 L1081.8,822.4 L1084.4,822.4 L1087.1,822.4 L1089.7,822.4 L1092.4,822.4 L1095.0,822.4 L1097.7,822.4 L1100.3,822.4 L1103.0,822.4 L1105.6,822.4 L1108.3,822.4 L1111.0,822.4 L1113.6,822.4 L1116.3,822.4 L1118.9,822.4 L1121.6,822.4 L1124.2,822.4 L1126.9,822.4 L1129.5,822.4 L1132.2,822.4 L1134.8,822.4 L1137.5,822.4 L1140.1,822.4 L1142.8,822.4 L1145.4,822.4 L1148.1,822.4 L1150.7,822.4 L1153.4,822.4 L1156.0,822.4 L1158.7,822.4 L1161.3,822.4 L1164.0,822.4 L1166.6,822.4 L1169.3,822.4 L1171.9,822.4 L1174.6,822.4 L1177.2,822.4 L1179.9,822.4 L1182.5,822.4 L1185.2,822.4 L1187.8,822.4 L1190.5,822.4 L1193.2,822.4 L1195.8,822.4 L1198.5,822.4 L1201.1,822.4 L1203.8,822.4 L1206.4,822.4 L1209.1,822.4 L1211.7,822.4 L1214.4,822.4 L1217.0,822.4 L1219.7,822.4 L1222.3,822.4 L1225.0,822.4 L1227.6,822.4 L1230.3,822.4 L1232.9,822.4 L1235.6,822.4 L1238.2,822.4 L1240.9,822.4 L1243.5,822.4 L1246.2,822.4 L1248.8,822.4 L1251.5,822.4 L1254.1,822.4 L1256.8,822.4 L1259.4,822.4 L1262.1,822.4 L1264.7,822.4 L1267.4,822.4 L1270.1,822.4 L1272.7,822.4 L1275.4,822.4 L1278.0,822.4 L1280.7,822.4 L1283.3,822.4 L1286.0,822.4 L1288.6,822.4 L1291.3,822.4 L1293.9,822.4 L1296.6,822.4 L1299.2,822.4 L1301.9,822.4 L1304.5,822.4 L1307.2,822.4 L1309.8,822.4 L1312.5,822.4 L1315.1,822.4 L1317.8,822.4 L1320.4,822.4 L1323.1,822.4 L1325.7,822.4 L1328.4,822.4 L1331.0,822.4 L1333.7,822.4 L1336.3,822.4 L1339.0,822.4 L1341.6,822.4 L1344.3,822.4 L1346.9,822.4 L1349.6,822.4" fill="none" stroke="#3d66b0" stroke-width="3.3" stroke-dasharray="6.2 18.8" stroke-dashoffset="0" stroke-linejoin="round"/>
<text transform="translate(246.8,912.9) scale(0.975,1)" text-anchor="end">−5</text>
<text transform="translate(246.8,840.4) scale(0.975,1)" text-anchor="end">0</text>
<text transform="translate(246.8,767.9) scale(0.975,1)" text-anchor="end">5</text>
<text transform="translate(246.8,695.4) scale(0.975,1)" text-anchor="end">10</text>
<text transform="translate(246.8,622.9) scale(0.975,1)" text-anchor="end">15</text>
<text transform="translate(246.8,550.4) scale(0.975,1)" text-anchor="end">20</text>
<text transform="translate(246.8,477.9) scale(0.975,1)" text-anchor="end">25</text>
<text transform="translate(246.8,405.4) scale(0.975,1)" text-anchor="end">30</text>
<text transform="translate(246.8,332.9) scale(0.975,1)" text-anchor="end">35</text>
<text transform="translate(246.8,260.4) scale(0.975,1)" text-anchor="end">40</text>
<text transform="translate(246.8,187.9) scale(0.975,1)" text-anchor="end">45</text>
<text transform="translate(246.8,115.4) scale(0.975,1)" text-anchor="end">50</text>
<text transform="translate(246.8,42.9) scale(0.975,1)" text-anchor="end">55</text>
<text transform="translate(267.3,951.4) scale(0.975,1)" text-anchor="middle">0</text>
<text transform="translate(483.8,951.4) scale(0.975,1)" text-anchor="middle">2</text>
<text transform="translate(700.3,951.4) scale(0.975,1)" text-anchor="middle">4</text>
<text transform="translate(916.7,951.4) scale(0.975,1)" text-anchor="middle">6</text>
<text transform="translate(1133.2,951.4) scale(0.975,1)" text-anchor="middle">8</text>
<text transform="translate(1350.9,951.4) scale(0.975,1)" text-anchor="middle">10</text>
<path d="M950.2,228H1045.6" stroke="#45464b" stroke-width="2.6" fill="none"/>
<path d="M950.2,287.4H1045.6" stroke="#d8324a" stroke-width="3.1" stroke-dasharray="22.6 19.3" fill="none"/>
<path d="M950.2,340.5H1045.6" stroke="#3d66b0" stroke-width="3.1" stroke-dasharray="6.3 18.6" fill="none"/>
<text transform="translate(1063.5,240.0) scale(0.975,1)" text-anchor="start"><tspan font-style="italic">x</tspan>/mm</text>
<text transform="translate(1063.5,300.0) scale(0.975,1)" text-anchor="start"><tspan font-style="italic">v</tspan>/(mm·s<tspan font-size="31" dy="-19">−1</tspan><tspan dy="19">)</tspan></text>
<text transform="translate(1063.5,352.0) scale(0.975,1)" text-anchor="start"><tspan font-style="italic">n</tspan>/(r·s<tspan font-size="31" dy="-19">−1</tspan><tspan dy="19">)</tspan></text>
<text transform="translate(808.2,1021.9) scale(0.975,1)" text-anchor="middle"><tspan font-style="italic">t</tspan>/s</text>
<text transform="translate(806.8,1102.5) scale(0.975,1)" text-anchor="middle">(a) PID<tspan dy="3">控制</tspan></text>
<text transform="translate(142.8,460.5) rotate(-90) scale(0.975,1)" text-anchor="middle" font-style="italic">x, v, n</text>
<rect x="267.5" y="1185.4" width="1082.10" height="869.1" fill="none" stroke="#0d0d0d" stroke-width="3.1"/>
<path d="M267.5,2019.5H284.5 M267.5,1950.0H284.5 M267.5,1880.5H284.5 M267.5,1810.9H284.5 M267.5,1741.3H284.5 M267.5,1671.8H284.5 M267.5,1602.2H284.5 M267.5,1532.7H284.5 M267.5,1463.2H284.5 M267.5,1393.6H284.5 M267.5,1324.0H284.5 M267.5,1254.5H284.5 M484.1,2054.5v-18 M700.6,2054.5v-18 M917.0,2054.5v-18 M1133.5,2054.5v-18 " stroke="#0d0d0d" stroke-width="3.1" fill="none"/>
<path d="M267.3,1950.0 L268.4,1949.8 L269.5,1949.2 L270.5,1948.2 L271.6,1946.7 L272.7,1944.8 L273.8,1942.5 L274.9,1939.8 L276.0,1937.0 L277.0,1934.1 L278.1,1931.2 L279.2,1928.3 L280.3,1925.4 L281.4,1922.5 L282.5,1919.6 L283.5,1916.7 L284.6,1913.8 L285.7,1910.9 L286.8,1908.0 L287.9,1905.1 L288.9,1902.2 L290.0,1899.3 L291.1,1896.4 L292.2,1893.5 L293.3,1890.5 L294.4,1887.6 L295.4,1884.7 L296.5,1881.8 L297.6,1878.9 L298.7,1876.0 L299.8,1873.1 L300.9,1870.2 L301.9,1867.3 L303.0,1864.4 L304.1,1861.5 L305.2,1858.6 L306.3,1855.7 L307.3,1852.8 L308.4,1849.9 L309.5,1847.0 L310.6,1844.1 L311.7,1841.2 L312.8,1838.3 L313.8,1835.4 L314.9,1832.5 L316.0,1829.6 L317.1,1826.7 L318.2,1823.8 L319.3,1820.8 L320.3,1817.9 L321.4,1815.0 L322.5,1812.1 L323.6,1809.2 L324.7,1806.3 L325.7,1803.4 L326.8,1800.5 L327.9,1797.6 L329.0,1794.7 L330.1,1791.8 L331.2,1788.9 L332.2,1786.0 L333.3,1783.1 L334.4,1780.2 L335.5,1777.3 L336.6,1774.4 L337.7,1771.5 L338.7,1768.6 L339.8,1765.7 L340.9,1762.8 L342.0,1759.9 L343.1,1757.0 L344.2,1754.1 L345.2,1751.2 L346.3,1748.2 L347.4,1745.3 L348.5,1742.4 L349.6,1739.5 L350.6,1736.6 L351.7,1733.7 L352.8,1730.8 L353.9,1727.9 L355.0,1725.0 L356.1,1722.1 L357.1,1719.2 L358.2,1716.3 L359.3,1713.4 L360.4,1710.5 L361.5,1707.6 L362.6,1704.7 L363.6,1701.8 L364.7,1698.9 L365.8,1696.0 L366.9,1693.1 L368.0,1690.2 L369.0,1687.3 L370.1,1684.4 L371.2,1681.5 L372.3,1678.6 L373.4,1675.6 L374.5,1672.7 L375.5,1669.8 L376.6,1666.9 L377.7,1664.0 L378.8,1661.1 L379.9,1658.2 L381.0,1655.3 L382.0,1652.4 L383.1,1649.5 L384.2,1646.6 L385.3,1643.7 L386.4,1640.8 L387.4,1637.9 L388.5,1635.0 L389.6,1632.1 L390.7,1629.2 L391.8,1626.3 L392.9,1623.4 L393.9,1620.5 L395.0,1617.6 L396.1,1614.7 L397.2,1611.8 L398.3,1608.9 L399.4,1606.0 L400.4,1603.0 L401.5,1600.1 L402.6,1597.2 L403.7,1594.3 L404.8,1591.4 L405.8,1588.5 L406.9,1585.6 L408.0,1582.7 L409.1,1579.8 L410.2,1576.9 L411.3,1574.0 L412.3,1571.1 L413.4,1568.2 L414.5,1565.3 L415.6,1562.4 L416.7,1559.5 L417.8,1556.6 L418.8,1553.7 L419.9,1550.8 L421.0,1547.9 L422.1,1545.0 L423.2,1542.1 L424.2,1539.2 L425.3,1536.3 L426.4,1533.4 L427.5,1530.4 L428.6,1527.5 L429.7,1524.6 L430.7,1521.7 L431.8,1518.8 L432.9,1515.9 L434.0,1513.0 L435.1,1510.1 L436.2,1507.2 L437.2,1504.3 L438.3,1501.4 L439.4,1498.5 L440.5,1495.6 L441.6,1492.7 L442.6,1489.8 L443.7,1486.9 L444.8,1484.0 L445.9,1481.1 L447.0,1478.2 L448.1,1475.3 L449.1,1472.4 L450.2,1469.5 L451.3,1466.6 L452.4,1463.7 L453.5,1460.8 L454.6,1457.8 L455.6,1454.9 L456.7,1452.0 L457.8,1449.1 L458.9,1446.2 L460.0,1443.3 L461.0,1440.4 L462.1,1437.5 L463.2,1434.6 L464.3,1431.7 L465.4,1428.8 L466.5,1425.9 L467.5,1423.0 L468.6,1420.1 L469.7,1417.2 L470.8,1414.3 L471.9,1411.4 L473.0,1408.5 L474.0,1405.6 L475.1,1402.7 L476.2,1399.8 L477.3,1396.9 L478.4,1394.0 L479.5,1391.2 L480.5,1388.3 L481.6,1385.4 L482.7,1382.5 L483.8,1379.6 L484.9,1376.8 L485.9,1373.9 L487.0,1371.1 L488.1,1368.3 L489.2,1365.5 L490.3,1362.7 L491.4,1360.0 L492.4,1357.3 L493.5,1354.6 L494.6,1351.9 L495.7,1349.3 L496.8,1346.7 L497.9,1344.2 L498.9,1341.7 L500.0,1339.2 L501.1,1336.8 L502.2,1334.3 L503.3,1332.0 L504.3,1329.6 L505.4,1327.3 L506.5,1325.1 L507.6,1322.8 L508.7,1320.6 L509.8,1318.5 L510.8,1316.3 L511.9,1314.2 L513.0,1312.2 L514.1,1310.1 L515.2,1308.1 L516.3,1306.2 L517.3,1304.3 L518.4,1302.4 L519.5,1300.5 L520.6,1298.7 L521.7,1296.9 L522.7,1295.2 L523.8,1293.5 L524.9,1291.8 L526.0,1290.1 L527.1,1288.5 L528.2,1286.9 L529.2,1285.4 L530.3,1283.9 L531.4,1282.4 L532.5,1281.0 L533.6,1279.6 L534.7,1278.2 L535.7,1276.9 L536.8,1275.6 L537.9,1274.3 L539.0,1273.1 L540.1,1271.9 L541.1,1270.7 L542.2,1269.6 L543.3,1268.5 L544.4,1267.4 L545.5,1266.3 L546.6,1265.3 L547.6,1264.3 L548.7,1263.4 L549.8,1262.5 L550.9,1261.6 L552.0,1260.7 L553.1,1259.9 L554.1,1259.1 L555.2,1258.3 L556.3,1257.6 L557.4,1256.9 L558.5,1256.2 L559.5,1255.6 L560.6,1254.9 L561.7,1254.3 L562.8,1253.7 L563.9,1253.2 L565.0,1252.7 L566.0,1252.1 L567.1,1251.7 L568.2,1251.2 L569.3,1250.7 L570.4,1250.3 L571.5,1249.9 L572.5,1249.5 L573.6,1249.2 L574.7,1248.8 L575.8,1248.5 L576.9,1248.2 L577.9,1247.9 L579.0,1247.6 L580.1,1247.3 L581.2,1247.0 L582.3,1246.8 L583.4,1246.6 L584.4,1246.4 L585.5,1246.2 L586.6,1246.0 L587.7,1245.8 L588.8,1245.6 L589.9,1245.5 L590.9,1245.3 L592.0,1245.2 L593.1,1245.1 L594.2,1244.9 L595.3,1244.8 L596.3,1244.7 L597.4,1244.7 L598.5,1244.6 L599.6,1244.5 L600.7,1244.4 L601.8,1244.4 L602.8,1244.3 L603.9,1244.3 L605.0,1244.3 L606.1,1244.2 L607.2,1244.2 L608.3,1244.2 L609.3,1244.2 L610.4,1244.2 L611.5,1244.2 L612.6,1244.3 L613.7,1244.3 L614.8,1244.3 L615.8,1244.4 L616.9,1244.4 L618.0,1244.5 L619.1,1244.5 L620.2,1244.6 L621.2,1244.6 L622.3,1244.7 L623.4,1244.8 L624.5,1244.8 L625.6,1244.9 L626.7,1245.0 L627.7,1245.1 L628.8,1245.2 L629.9,1245.3 L631.0,1245.4 L632.1,1245.4 L633.2,1245.5 L634.2,1245.6 L635.3,1245.7 L636.4,1245.8 L637.5,1245.9 L638.6,1246.1 L639.6,1246.2 L640.7,1246.3 L641.8,1246.4 L642.9,1246.5 L644.0,1246.6 L645.1,1246.7 L646.1,1246.8 L647.2,1246.9 L648.3,1247.1 L649.4,1247.2 L650.5,1247.3 L651.6,1247.4 L652.6,1247.5 L653.7,1247.6 L654.8,1247.8 L655.9,1247.9 L657.0,1248.0 L658.0,1248.1 L659.1,1248.2 L660.2,1248.3 L661.3,1248.4 L662.4,1248.6 L663.5,1248.7 L664.5,1248.8 L665.6,1248.9 L666.7,1249.0 L667.8,1249.1 L668.9,1249.2 L670.0,1249.3 L671.0,1249.4 L672.1,1249.6 L673.2,1249.7 L674.3,1249.8 L675.4,1249.9 L676.4,1250.0 L677.5,1250.1 L678.6,1250.2 L679.7,1250.3 L680.8,1250.4 L681.9,1250.5 L682.9,1250.6 L684.0,1250.7 L685.1,1250.8 L686.2,1250.9 L687.3,1250.9 L688.4,1251.0 L689.4,1251.1 L690.5,1251.2 L691.6,1251.3 L692.7,1251.4 L693.8,1251.5 L694.8,1251.5 L695.9,1251.6 L697.0,1251.7 L698.1,1251.8 L699.2,1251.8 L700.3,1251.9 L701.3,1252.0 L702.4,1252.1 L703.5,1252.1 L704.6,1252.2 L705.7,1252.3 L706.8,1252.3 L707.8,1252.4 L708.9,1252.5 L710.0,1252.5 L711.1,1252.6 L712.2,1252.6 L713.2,1252.7 L714.3,1252.8 L715.4,1252.8 L716.5,1252.9 L717.6,1252.9 L718.7,1253.0 L719.7,1253.0 L720.8,1253.1 L721.9,1253.1 L723.0,1253.2 L724.1,1253.2 L725.2,1253.3 L726.2,1253.3 L727.3,1253.3 L728.4,1253.4 L729.5,1253.4 L730.6,1253.5 L731.6,1253.5 L732.7,1253.5 L733.8,1253.6 L734.9,1253.6 L736.0,1253.6 L737.1,1253.7 L738.1,1253.7 L739.2,1253.7 L740.3,1253.8 L741.4,1253.8 L742.5,1253.8 L743.6,1253.8 L744.6,1253.9 L745.7,1253.9 L746.8,1253.9 L747.9,1254.0 L749.0,1254.0 L750.1,1254.0 L751.1,1254.0 L752.2,1254.0 L753.3,1254.1 L754.4,1254.1 L781.4,1254.4 L808.5,1254.5 L835.6,1254.5 L862.6,1254.5 L889.7,1254.5 L916.7,1254.5 L943.8,1254.5 L970.9,1254.5 L997.9,1254.5 L1025.0,1254.5 L1052.0,1254.5 L1079.1,1254.5 L1106.2,1254.5 L1133.2,1254.5 L1160.3,1254.5 L1187.3,1254.5 L1214.4,1254.5 L1241.5,1254.5 L1268.5,1254.5 L1295.6,1254.5 L1322.6,1254.5 L1349.7,1254.5" fill="none" stroke="#45464b" stroke-width="3.4" stroke-linejoin="round"/>
<path d="M267.3,1950.0 L267.4,1947.8 L267.4,1945.5 L267.5,1943.3 L267.5,1941.1 L267.6,1938.9 L267.7,1936.6 L267.7,1934.4 L267.8,1932.2 L267.8,1929.9 L267.9,1927.7 L267.9,1925.5 L268.0,1923.3 L268.1,1921.0 L268.1,1918.8 L268.2,1916.6 L268.2,1914.3 L268.3,1912.1 L268.4,1909.9 L268.4,1907.7 L268.5,1905.4 L268.5,1903.2 L268.6,1901.0 L268.7,1898.7 L268.7,1896.5 L268.8,1894.3 L268.8,1892.1 L268.9,1889.8 L268.9,1887.6 L269.0,1885.4 L269.1,1883.1 L269.1,1880.9 L269.2,1878.7 L269.2,1876.5 L269.3,1874.2 L269.4,1872.0 L269.4,1869.8 L269.5,1867.5 L269.5,1865.3 L269.6,1863.1 L269.7,1860.9 L269.7,1858.6 L269.8,1856.4 L269.8,1854.2 L269.9,1851.9 L269.9,1849.7 L270.0,1847.5 L270.1,1845.3 L270.1,1843.0 L270.2,1840.8 L270.2,1838.6 L270.3,1836.3 L270.4,1834.1 L270.4,1831.9 L270.5,1829.7 L270.5,1827.4 L270.6,1825.2 L270.7,1823.0 L270.7,1820.7 L270.8,1818.5 L270.8,1816.3 L270.9,1814.1 L271.0,1811.8 L271.0,1809.6 L271.1,1807.4 L271.1,1805.1 L271.2,1802.9 L271.2,1800.7 L271.3,1798.5 L271.3,1796.2 L271.4,1794.0 L271.5,1791.8 L271.5,1789.5 L271.6,1787.3 L271.6,1785.1 L271.7,1782.9 L271.7,1780.6 L271.8,1778.4 L271.8,1776.2 L271.9,1773.9 L271.9,1771.7 L272.0,1769.5 L272.0,1767.2 L272.0,1765.0 L272.1,1762.8 L272.1,1760.6 L272.2,1758.3 L272.2,1756.1 L272.3,1753.9 L272.3,1751.6 L272.4,1749.4 L272.4,1747.2 L272.5,1745.0 L272.5,1742.7 L272.6,1740.5 L272.6,1738.3 L272.7,1736.0 L272.8,1733.8 L272.8,1731.6 L272.9,1729.4 L272.9,1727.1 L273.0,1724.9 L273.0,1722.7 L273.1,1720.4 L273.2,1718.2 L273.2,1716.0 L273.3,1713.8 L273.3,1711.5 L273.4,1709.3 L273.5,1707.1 L273.5,1704.8 L273.6,1702.6 L273.7,1700.4 L273.7,1698.2 L273.8,1695.9 L273.9,1693.7 L274.0,1691.5 L274.1,1689.2 L274.1,1687.0 L274.2,1684.8 L274.3,1682.6 L274.4,1680.3 L274.5,1678.1 L274.6,1675.9 L274.7,1673.7 L274.7,1671.4 L274.9,1669.1 L275.0,1666.9 L275.2,1664.8 L275.9,1662.2 L277.0,1660.6 L278.4,1660.3 L280.5,1660.0 L282.8,1659.8 L285.4,1659.6 L287.9,1659.5 L290.3,1659.5 L292.5,1659.5 L294.7,1659.5 L297.0,1659.6 L299.2,1659.6 L301.4,1659.6 L303.7,1659.6 L305.9,1659.6 L308.1,1659.6 L310.3,1659.6 L312.6,1659.6 L314.8,1659.6 L317.0,1659.6 L319.3,1659.6 L321.5,1659.6 L323.7,1659.6 L325.9,1659.6 L328.2,1659.6 L330.4,1659.6 L332.6,1659.6 L334.9,1659.6 L337.1,1659.6 L339.3,1659.6 L341.6,1659.6 L343.8,1659.6 L346.0,1659.6 L348.2,1659.6 L350.5,1659.6 L352.7,1659.6 L354.9,1659.6 L357.2,1659.6 L359.4,1659.6 L361.6,1659.6 L363.8,1659.6 L366.1,1659.6 L368.3,1659.6 L370.5,1659.6 L372.8,1659.6 L375.0,1659.6 L377.2,1659.6 L379.5,1659.6 L381.7,1659.6 L383.9,1659.6 L386.1,1659.6 L388.4,1659.6 L390.6,1659.6 L392.8,1659.6 L395.1,1659.6 L397.3,1659.6 L399.5,1659.6 L401.7,1659.6 L404.0,1659.6 L406.2,1659.6 L408.4,1659.6 L410.7,1659.6 L412.9,1659.6 L415.1,1659.6 L417.4,1659.6 L419.6,1659.6 L421.8,1659.6 L424.0,1659.6 L426.3,1659.6 L428.5,1659.6 L430.7,1659.6 L433.0,1659.6 L435.2,1659.6 L437.4,1659.6 L439.6,1659.6 L441.9,1659.6 L444.1,1659.6 L446.3,1659.6 L448.6,1659.6 L450.8,1659.6 L453.0,1659.6 L455.2,1659.6 L457.5,1659.6 L459.7,1659.7 L462.0,1659.7 L464.2,1659.8 L466.4,1659.9 L468.6,1660.0 L470.9,1660.2 L473.3,1660.6 L475.8,1661.0 L478.0,1661.6 L480.1,1662.3 L481.8,1663.1 L483.1,1664.1" fill="none" stroke="#d8324a" stroke-width="3.3" stroke-dasharray="20.5 21.5" stroke-dashoffset="6" stroke-linejoin="round"/>
<path d="M483.1,1664.1 L484.3,1665.7 L485.3,1667.6 L486.3,1669.9 L487.2,1672.3 L488.0,1674.6 L488.9,1676.8 L489.7,1678.9 L490.5,1680.9 L491.2,1683.0 L492.0,1685.1 L492.7,1687.2 L493.4,1689.4 L494.0,1691.5 L494.7,1693.6 L495.4,1695.8 L496.0,1697.9 L496.7,1700.0 L497.4,1702.2 L498.0,1704.3 L498.7,1706.4 L499.4,1708.5 L500.1,1710.7 L500.7,1712.8 L501.4,1714.9 L502.0,1717.0 L502.7,1719.2 L503.4,1721.3 L504.0,1723.4 L504.7,1725.6 L505.3,1727.7 L506.0,1729.8 L506.6,1732.0 L507.3,1734.1 L507.9,1736.2 L508.6,1738.4 L509.3,1740.5 L509.9,1742.6 L510.6,1744.7 L511.3,1746.9 L511.9,1749.0 L512.6,1751.1 L513.3,1753.3 L513.9,1755.4 L514.6,1757.5 L515.3,1759.6 L515.9,1761.8 L516.6,1763.9 L517.3,1766.0 L517.9,1768.1 L518.6,1770.3 L519.3,1772.4 L519.9,1774.5 L520.6,1776.7 L521.3,1778.8 L521.9,1780.9 L522.6,1783.0 L523.2,1785.2 L523.9,1787.3 L524.6,1789.4 L525.2,1791.6 L525.9,1793.7 L526.5,1795.8 L527.2,1797.9 L527.9,1800.1 L528.5,1802.2 L529.2,1804.3 L529.9,1806.4 L530.6,1808.6 L531.2,1810.7 L531.9,1812.8 L532.6,1814.9 L533.3,1817.1 L534.0,1819.2 L534.7,1821.3 L535.4,1823.4 L536.1,1825.5 L536.8,1827.6 L537.5,1829.8 L538.2,1831.9 L538.9,1834.0 L539.6,1836.1 L540.3,1838.2 L541.0,1840.3 L541.8,1842.4 L542.5,1844.5 L543.2,1846.7 L543.9,1848.8 L544.7,1850.9 L545.4,1853.0 L546.1,1855.1 L546.8,1857.2 L547.5,1859.3 L548.2,1861.4 L549.0,1863.5 L549.7,1865.7 L550.4,1867.8 L551.2,1869.9 L552.0,1872.0 L552.7,1874.0 L553.5,1876.1 L554.4,1878.2 L555.2,1880.2 L556.0,1882.3 L556.9,1884.4 L557.7,1886.4 L558.6,1888.5 L559.5,1890.6 L560.4,1892.6 L561.3,1894.7 L562.3,1896.7 L563.2,1898.7 L564.2,1900.7 L565.2,1902.7 L566.2,1904.7 L567.2,1906.6 L568.3,1908.6 L569.4,1910.5 L570.5,1912.4 L571.7,1914.3 L572.9,1916.2 L574.1,1918.1 L575.4,1920.0 L576.7,1921.9 L578.0,1923.7 L579.3,1925.5 L580.7,1927.2 L582.1,1929.0 L583.5,1930.6 L585.0,1932.2 L586.5,1933.8 L588.1,1935.4 L589.8,1936.9 L591.5,1938.3 L593.2,1939.8 L594.9,1941.2 L596.7,1942.6 L598.5,1943.9 L600.3,1945.3 L602.0,1946.6 L603.8,1948.0 L605.7,1949.4 L607.5,1950.7 L609.4,1951.9 L611.3,1953.0 L613.2,1954.0 L615.2,1954.9 L617.3,1955.7 L619.3,1956.5 L621.5,1957.3 L623.6,1957.9 L625.8,1958.6 L628.0,1959.1 L630.2,1959.6 L632.4,1959.9 L634.6,1960.3 L636.8,1960.6 L639.0,1960.9 L641.2,1961.1 L643.4,1961.4 L645.7,1961.5 L647.9,1961.7 L650.1,1961.7 L652.3,1961.7 L654.6,1961.6 L656.8,1961.5 L659.0,1961.4 L661.3,1961.3 L663.5,1961.2 L665.7,1961.0 L667.9,1960.8 L670.2,1960.7 L672.4,1960.5 L674.6,1960.3 L676.8,1960.0 L679.0,1959.8 L681.2,1959.5 L683.4,1959.2 L685.7,1958.9 L687.9,1958.6 L690.1,1958.3 L692.3,1958.0 L694.5,1957.8 L696.7,1957.5 L698.9,1957.2 L701.1,1957.0 L703.4,1956.7 L705.6,1956.4 L707.8,1956.1 L710.0,1955.9 L712.2,1955.6 L714.4,1955.3 L716.6,1955.1 L718.9,1954.8 L721.1,1954.6 L723.3,1954.3 L725.5,1954.1 L727.7,1953.9 L729.9,1953.7 L732.2,1953.5 L734.4,1953.3 L736.6,1953.1 L738.8,1952.9 L741.0,1952.7 L743.3,1952.6 L745.5,1952.4 L747.7,1952.2 L749.9,1952.1 L752.2,1951.9 L754.4,1951.8 L756.6,1951.7 L758.8,1951.6 L761.1,1951.5 L763.3,1951.3 L765.5,1951.2 L767.8,1951.2 L770.0,1951.1 L772.2,1951.0 L774.4,1950.9 L776.7,1950.8 L778.9,1950.7 L781.1,1950.6 L783.3,1950.5 L785.6,1950.5 L787.8,1950.4 L790.0,1950.4 L792.3,1950.3 L794.5,1950.3 L796.7,1950.2 L799.0,1950.2 L801.2,1950.2" fill="none" stroke="#d8324a" stroke-width="3.3" stroke-dasharray="21 15" stroke-dashoffset="0" stroke-linejoin="round"/>
<path d="M801.2,1950.2 L803.4,1950.2 L805.6,1950.2 L807.9,1950.1 L810.1,1950.1 L812.3,1950.1 L814.6,1950.1 L816.8,1950.1 L819.0,1950.1 L821.2,1950.1 L823.5,1950.1 L825.7,1950.1 L827.9,1950.0 L830.2,1950.0 L832.4,1950.0 L834.6,1950.0 L836.8,1950.0 L839.1,1950.0 L841.3,1950.0 L843.5,1950.0 L845.8,1950.0 L848.0,1950.0 L850.2,1950.0 L852.5,1950.0 L854.7,1950.0 L856.9,1950.0 L859.1,1950.0 L861.4,1950.0 L863.6,1950.0 L865.8,1950.0 L868.1,1950.0 L870.3,1950.0 L872.5,1950.0 L874.7,1950.0 L877.0,1950.0 L879.2,1950.0 L881.4,1950.0 L883.7,1950.0 L885.9,1950.0 L888.1,1950.0 L890.4,1950.0 L892.6,1950.0 L894.8,1950.0 L897.0,1950.0 L899.3,1950.0 L901.5,1950.0 L903.7,1950.0 L906.0,1950.0 L908.2,1950.0 L910.4,1950.0 L912.6,1950.0 L914.9,1950.0 L917.1,1950.0 L919.3,1950.0 L921.6,1950.0 L923.8,1950.0 L926.0,1950.0 L928.3,1950.0 L930.5,1950.0 L932.7,1950.0 L934.9,1950.0 L937.2,1950.0 L939.4,1950.0 L941.6,1950.0 L943.9,1950.0 L946.1,1950.0 L948.3,1950.0 L950.5,1950.0 L952.8,1950.0 L955.0,1950.0 L957.2,1950.0 L959.5,1950.0 L961.7,1950.0 L963.9,1950.0 L966.2,1950.0 L968.4,1950.0 L970.6,1950.0 L972.8,1950.0 L975.1,1950.0 L977.3,1950.0 L979.5,1950.0 L981.8,1950.0 L984.0,1950.0 L986.2,1950.0 L988.4,1950.0 L990.7,1950.0 L992.9,1950.0 L995.1,1950.0 L997.4,1950.0 L999.6,1950.0 L1001.8,1950.0 L1004.1,1950.0 L1006.3,1950.0 L1008.5,1950.0 L1010.7,1950.0 L1013.0,1950.0 L1015.2,1950.0 L1017.4,1950.0 L1019.7,1950.0 L1021.9,1950.0 L1024.1,1950.0 L1026.3,1950.0 L1028.6,1950.0 L1030.8,1950.0 L1033.0,1950.0 L1035.3,1950.0 L1037.5,1950.0 L1039.7,1950.0 L1041.9,1950.0 L1044.2,1950.0 L1046.4,1950.0 L1048.6,1950.0 L1050.9,1950.0 L1053.1,1950.0 L1055.3,1950.0 L1057.6,1950.0 L1059.8,1950.0 L1062.0,1950.0 L1064.2,1950.0 L1066.5,1950.0 L1068.7,1950.0 L1070.9,1950.0 L1073.2,1950.0 L1075.4,1950.0 L1077.6,1950.0 L1079.8,1950.0 L1082.1,1950.0 L1084.3,1950.0 L1086.5,1950.0 L1088.8,1950.0 L1091.0,1950.0 L1093.2,1950.0 L1095.5,1950.0 L1097.7,1950.0 L1099.9,1950.0 L1102.1,1950.0 L1104.4,1950.0 L1106.6,1950.0 L1108.8,1950.0 L1111.1,1950.0 L1113.3,1950.0 L1115.5,1950.0 L1117.7,1950.0 L1120.0,1950.0 L1122.2,1950.0 L1124.4,1950.0 L1126.7,1950.0 L1128.9,1950.0 L1131.1,1950.0 L1133.4,1950.0 L1135.6,1950.0 L1137.8,1950.0 L1140.0,1950.0 L1142.3,1950.0 L1144.5,1950.0 L1146.7,1950.0 L1149.0,1950.0 L1151.2,1950.0 L1153.4,1950.0 L1155.6,1950.0 L1157.9,1950.0 L1160.1,1950.0 L1162.3,1950.0 L1164.6,1950.0 L1166.8,1950.0 L1169.0,1950.0 L1171.3,1950.0 L1173.5,1950.0 L1175.7,1950.0 L1177.9,1950.0 L1180.2,1950.0 L1182.4,1950.0 L1184.6,1950.0 L1186.9,1950.0 L1189.1,1950.0 L1191.3,1950.0 L1193.5,1950.0 L1195.8,1950.0 L1198.0,1950.0 L1200.2,1950.0 L1202.5,1950.0 L1204.7,1950.0 L1206.9,1950.0 L1209.2,1950.0 L1211.4,1950.0 L1213.6,1950.0 L1215.8,1950.0 L1218.1,1950.0 L1220.3,1950.0 L1222.5,1950.0 L1224.8,1950.0 L1227.0,1950.0 L1229.2,1950.0 L1231.4,1950.0 L1233.7,1950.0 L1235.9,1950.0 L1238.1,1950.0 L1240.4,1950.0 L1242.6,1950.0 L1244.8,1950.0 L1247.0,1950.0 L1249.3,1950.0 L1251.5,1950.0 L1253.7,1950.0 L1256.0,1950.0 L1258.2,1950.0 L1260.4,1950.0 L1262.7,1950.0 L1264.9,1950.0 L1267.1,1950.0 L1269.3,1950.0 L1271.6,1950.0 L1273.8,1950.0 L1276.0,1950.0 L1278.3,1950.0 L1280.5,1950.0 L1282.7,1950.0 L1284.9,1950.0 L1287.2,1950.0 L1289.4,1950.0 L1291.6,1950.0 L1293.9,1950.0 L1296.1,1950.0 L1298.3,1950.0 L1300.6,1950.0 L1302.8,1950.0 L1305.0,1950.0 L1307.2,1950.0 L1309.5,1950.0 L1311.7,1950.0 L1313.9,1950.0 L1316.2,1950.0 L1318.4,1950.0 L1320.6,1950.0 L1322.8,1950.0 L1325.1,1950.0 L1327.3,1950.0 L1329.5,1950.0 L1331.8,1950.0 L1334.0,1950.0 L1336.2,1950.0 L1338.5,1950.0 L1340.7,1950.0 L1342.9,1950.0 L1345.1,1950.0 L1347.4,1950.0 L1349.6,1950.0" fill="none" stroke="#d8324a" stroke-width="3.3" stroke-dasharray="24 18" stroke-dashoffset="0" stroke-linejoin="round"/>
<path d="M266.8,1950.0 L266.8,1947.4 L266.8,1944.7 L266.8,1942.1 L266.8,1939.5 L266.8,1936.9 L266.8,1934.2 L266.8,1931.6 L266.8,1929.0 L266.8,1926.3 L266.8,1923.7 L266.8,1921.1 L266.8,1918.4 L266.8,1915.8 L266.8,1913.2 L266.8,1910.6 L266.8,1907.9 L266.8,1905.3 L266.8,1902.7 L266.8,1900.0 L266.8,1897.4 L266.8,1894.8 L266.8,1892.1 L266.8,1889.5 L266.8,1886.9 L266.8,1884.3 L266.8,1881.6 L266.8,1879.0 L266.8,1876.4 L266.8,1873.7 L266.8,1871.1 L266.8,1868.5 L266.8,1865.8 L266.8,1863.2 L266.8,1860.6 L266.8,1858.0 L266.8,1855.3 L266.8,1852.7 L266.8,1850.1 L266.8,1847.4 L266.8,1844.8 L266.8,1842.2 L266.8,1839.5 L266.8,1836.9 L266.8,1834.3 L266.8,1831.7 L266.8,1829.0 L266.8,1826.4 L266.8,1823.8 L266.8,1821.1 L266.8,1818.5 L266.8,1815.9 L266.8,1813.3 L266.8,1810.6 L266.8,1808.0 L266.8,1805.4 L266.8,1802.7 L266.8,1800.1 L266.8,1797.5 L266.8,1794.8 L266.8,1792.2 L266.8,1789.6 L266.8,1787.0 L266.8,1784.3 L266.8,1781.7 L266.8,1779.1 L266.9,1776.4 L266.9,1773.8 L266.9,1771.2 L266.9,1768.5 L266.9,1765.9 L266.9,1763.3 L267.0,1760.7 L267.0,1758.0 L267.0,1755.4 L267.0,1752.8 L267.0,1750.1 L267.1,1747.5 L267.1,1744.9 L267.1,1742.2 L267.1,1739.6 L267.2,1737.0 L267.2,1734.4 L267.2,1731.7 L267.3,1729.1 L267.3,1726.5 L267.3,1723.8 L267.3,1721.2 L267.4,1718.6 L267.4,1716.0 L267.4,1713.3 L267.5,1710.7 L267.5,1708.1 L267.5,1705.4 L267.6,1702.8 L267.6,1700.2 L267.6,1697.5 L267.7,1694.9 L267.7,1692.3 L267.8,1689.7 L267.8,1687.0 L267.9,1684.4 L267.9,1681.8 L268.0,1679.1 L268.1,1676.5 L268.1,1673.9 L268.2,1671.3 L268.3,1668.6 L268.3,1666.0 L268.4,1663.4 L268.4,1660.7 L268.5,1658.1 L268.5,1655.5 L268.6,1652.8 L268.6,1650.2 L268.6,1647.6 L268.7,1645.0 L268.7,1642.3 L268.7,1639.7 L268.7,1637.1 L268.8,1634.4 L268.8,1631.8 L268.8,1629.2 L268.8,1626.6 L268.8,1623.9 L268.9,1621.3 L268.9,1618.7 L268.9,1616.0 L268.9,1613.4 L268.9,1610.8 L269.0,1608.1 L269.0,1605.5 L269.0,1602.9 L269.0,1600.3 L269.0,1597.6 L269.0,1595.0 L269.1,1592.4 L269.1,1589.7 L269.1,1587.1 L269.1,1584.5 L269.1,1581.8 L269.1,1579.2 L269.2,1576.6 L269.2,1574.0 L269.2,1571.3 L269.2,1568.7 L269.2,1566.1 L269.3,1563.4 L269.3,1560.8 L269.3,1558.2 L269.3,1555.5 L269.4,1552.9 L269.4,1550.3 L269.4,1547.7 L269.4,1545.0 L269.5,1542.4 L269.5,1539.8 L269.5,1537.1 L269.6,1534.5 L269.6,1531.9 L269.6,1529.3 L269.6,1526.6 L269.7,1524.0 L269.7,1521.4 L269.7,1518.7 L269.8,1516.1 L269.8,1513.5 L269.8,1510.8 L269.9,1508.2 L269.9,1505.6 L269.9,1503.0 L269.9,1500.3 L270.0,1497.7 L270.0,1495.1 L270.0,1492.4 L270.1,1489.8 L270.1,1487.2 L270.1,1484.5 L270.2,1481.9 L270.2,1479.3 L270.2,1476.7 L270.3,1474.0 L270.3,1471.4 L270.3,1468.8 L270.3,1466.1 L270.4,1463.5 L270.4,1460.9 L270.4,1458.3 L270.5,1455.6 L270.5,1453.0 L270.5,1450.4 L270.6,1447.7 L270.6,1445.1 L270.6,1442.5 L270.7,1439.8 L270.7,1437.2 L270.7,1434.6 L270.8,1432.0 L270.8,1429.3 L270.8,1426.7 L270.9,1424.1 L270.9,1421.4 L270.9,1418.8 L271.0,1416.2 L271.0,1413.5 L271.0,1410.9 L271.0,1408.3 L271.1,1405.7 L271.1,1403.0 L271.1,1400.4 L271.2,1397.8 L271.2,1395.1 L271.2,1392.5 L271.3,1389.9 L271.3,1387.3 L271.3,1384.6 L271.4,1382.0 L271.4,1379.4 L271.4,1376.7 L271.5,1374.1 L271.5,1371.5 L271.5,1368.8 L271.6,1366.2 L271.6,1363.6 L271.6,1361.0 L271.7,1358.3 L271.7,1355.7 L271.8,1353.1 L271.8,1350.4 L271.8,1347.8 L271.9,1345.2 L271.9,1342.6 L271.9,1339.9 L272.0,1337.3 L272.0,1334.7 L272.0,1332.0 L272.1,1329.4 L272.1,1326.8 L272.1,1324.1 L272.2,1321.5 L272.2,1318.9 L272.2,1316.3 L272.3,1313.6 L272.3,1311.0 L272.3,1308.4 L272.3,1305.7 L272.4,1303.1 L272.4,1300.5 L272.4,1297.8 L272.4,1295.2 L272.5,1292.6 L272.5,1290.0 L272.5,1287.3 L272.5,1284.7 L272.5,1282.1 L272.5,1279.4 L272.5,1276.8 L272.6,1274.2 L272.6,1271.5 L272.6,1268.9 L272.6,1266.3 L272.7,1263.7 L272.7,1261.0 L272.9,1258.0 L273.2,1255.7 L275.4,1254.5 L277.9,1254.4 L280.5,1254.4 L283.0,1254.4 L285.6,1254.4 L288.1,1254.4 L290.7,1254.4 L293.3,1254.3 L295.9,1254.3 L298.5,1254.3 L301.2,1254.3 L303.8,1254.3 L306.5,1254.3 L309.1,1254.3 L311.8,1254.3 L314.4,1254.3 L317.1,1254.3 L319.8,1254.3 L322.4,1254.3 L325.1,1254.3 L327.8,1254.3 L330.5,1254.3 L333.1,1254.3 L335.8,1254.3 L338.5,1254.3 L341.1,1254.3 L343.8,1254.3 L346.4,1254.3 L349.0,1254.3 L351.7,1254.3 L354.3,1254.3 L356.9,1254.3 L359.6,1254.3 L362.2,1254.3 L364.8,1254.3 L367.5,1254.3 L370.1,1254.3 L372.7,1254.3 L375.4,1254.3 L378.0,1254.3 L380.6,1254.3 L383.3,1254.3 L385.9,1254.3 L388.6,1254.3 L391.2,1254.3 L393.8,1254.3 L396.5,1254.3 L399.1,1254.3 L401.7,1254.3 L404.4,1254.3 L407.0,1254.3 L409.6,1254.3 L412.3,1254.3 L414.9,1254.3 L417.5,1254.3 L420.2,1254.3 L422.8,1254.3 L425.4,1254.3 L428.1,1254.3 L430.7,1254.3 L433.3,1254.3 L435.9,1254.3 L438.6,1254.3 L441.2,1254.3 L443.8,1254.3 L446.5,1254.3 L449.1,1254.3 L451.7,1254.3 L454.3,1254.3 L456.9,1254.3 L459.6,1254.3 L462.2,1254.3 L464.8,1254.3 L467.4,1254.3 L470.2,1254.4 L473.2,1254.8 L475.6,1255.3 L476.9,1256.1" fill="none" stroke="#3d66b0" stroke-width="3.3" stroke-dasharray="6.2 18.8" stroke-dashoffset="0" stroke-linejoin="round"/>
<path d="M476.9,1256.1 L477.9,1257.7 L478.8,1260.0 L479.6,1262.8 L480.2,1265.8 L480.8,1269.0 L481.4,1272.0 L482.0,1274.7 L482.7,1277.3 L483.3,1279.8 L483.9,1282.4 L484.4,1285.0 L485.0,1287.5 L485.5,1290.1 L486.1,1292.7 L486.6,1295.3 L487.1,1297.8 L487.7,1300.4 L488.2,1303.0 L488.7,1305.6 L489.3,1308.1 L489.8,1310.7 L490.3,1313.3 L490.8,1315.9 L491.3,1318.5 L491.8,1321.0 L492.3,1323.6 L492.8,1326.2 L493.2,1328.8 L493.7,1331.4 L494.1,1334.0 L494.6,1336.6 L495.0,1339.2 L495.4,1341.8 L495.8,1344.4 L496.2,1347.0 L496.6,1349.6 L497.0,1352.2 L497.4,1354.8 L497.8,1357.4 L498.2,1360.0 L498.6,1362.6 L499.0,1365.2 L499.4,1367.8 L499.8,1370.4 L500.1,1373.0 L500.5,1375.6 L500.9,1378.2 L501.2,1380.8 L501.5,1383.4 L501.9,1386.0 L502.2,1388.6 L502.5,1391.2 L502.8,1393.8 L503.1,1396.5 L503.4,1399.1 L503.6,1401.7 L503.9,1404.3 L504.2,1406.9 L504.5,1409.5 L504.8,1412.1 L505.1,1414.8 L505.4,1417.4 L505.7,1420.0 L506.0,1422.6 L506.3,1425.2 L506.7,1427.8 L507.0,1430.4 L507.3,1433.0 L507.7,1435.6 L508.1,1438.2 L508.4,1440.8 L508.8,1443.5 L509.1,1446.1 L509.5,1448.7 L509.8,1451.3 L510.2,1453.9 L510.5,1456.5 L510.9,1459.1 L511.2,1461.7 L511.6,1464.3 L512.0,1466.9 L512.3,1469.5 L512.6,1472.1 L513.0,1474.7 L513.3,1477.3 L513.7,1479.9 L514.0,1482.5 L514.3,1485.2 L514.6,1487.8 L515.0,1490.4 L515.3,1493.0 L515.6,1495.6 L515.9,1498.2 L516.2,1500.8 L516.5,1503.4 L516.9,1506.0 L517.2,1508.7 L517.5,1511.3 L517.8,1513.9 L518.2,1516.5 L518.5,1519.1 L518.8,1521.7 L519.2,1524.3 L519.5,1526.9 L519.8,1529.5 L520.2,1532.1 L520.5,1534.7 L520.8,1537.4 L521.2,1540.0 L521.5,1542.6 L521.8,1545.2 L522.1,1547.8 L522.4,1550.4 L522.8,1553.0 L523.1,1555.6 L523.4,1558.2 L523.7,1560.8 L524.0,1563.5 L524.3,1566.1 L524.6,1568.7 L524.9,1571.3 L525.2,1573.9 L525.5,1576.5 L525.8,1579.1 L526.1,1581.7 L526.4,1584.4 L526.7,1587.0 L527.1,1589.6 L527.4,1592.2 L527.7,1594.8 L528.1,1597.4 L528.5,1600.0 L528.9,1602.6 L529.2,1605.2 L529.6,1607.8 L530.0,1610.4 L530.4,1613.0 L530.8,1615.6 L531.2,1618.2 L531.6,1620.8 L531.9,1623.4 L532.3,1626.0 L532.7,1628.6 L533.0,1631.2 L533.4,1633.8 L533.7,1636.4 L534.1,1639.0 L534.4,1641.7 L534.7,1644.3 L535.1,1646.9 L535.4,1649.5 L535.8,1652.1 L536.1,1654.7 L536.4,1657.3 L536.8,1659.9 L537.1,1662.5 L537.5,1665.1 L537.8,1667.7 L538.1,1670.3 L538.5,1673.0 L538.8,1675.6 L539.1,1678.2 L539.5,1680.8 L539.8,1683.4 L540.1,1686.0 L540.5,1688.6 L540.8,1691.2 L541.1,1693.8 L541.5,1696.4 L541.8,1699.0 L542.2,1701.6 L542.5,1704.2 L542.9,1706.9 L543.3,1709.5 L543.7,1712.1 L544.0,1714.7 L544.4,1717.3 L544.8,1719.9 L545.3,1722.4 L545.7,1725.0 L546.1,1727.6 L546.5,1730.2 L547.0,1732.8 L547.4,1735.4 L547.8,1738.0 L548.3,1740.6 L548.7,1743.2 L549.2,1745.8 L549.7,1748.4 L550.1,1751.0 L550.6,1753.6 L551.1,1756.1 L551.6,1758.7 L552.1,1761.3 L552.6,1763.9 L553.1,1766.5 L553.6,1769.0 L554.1,1771.6 L554.6,1774.2 L555.1,1776.8 L555.6,1779.4 L556.2,1781.9 L556.7,1784.5 L557.2,1787.1 L557.8,1789.7 L558.3,1792.2 L558.9,1794.8 L559.4,1797.4 L559.9,1800.0 L560.5,1802.5 L561.1,1805.1 L561.6,1807.7 L562.2,1810.2 L562.7,1812.8 L563.3,1815.4 L563.9,1817.9 L564.5,1820.5 L565.1,1823.1 L565.6,1825.6 L566.2,1828.2 L566.8,1830.8 L567.4,1833.3 L567.9,1835.9 L568.5,1838.5 L569.1,1841.0 L569.6,1843.6 L570.2,1846.2 L570.7,1848.7 L571.3,1851.3 L571.8,1853.9 L572.4,1856.5 L572.9,1859.0 L573.5,1861.6 L574.1,1864.2 L574.6,1866.7 L575.2,1869.3 L575.8,1871.9 L576.4,1874.4 L577.0,1877.0 L577.7,1879.5 L578.3,1882.1 L579.0,1884.6 L579.6,1887.2 L580.3,1889.7 L581.0,1892.3 L581.7,1894.8 L582.4,1897.3 L583.1,1899.9 L583.9,1902.4 L584.7,1904.9 L585.4,1907.4 L586.3,1909.9 L587.1,1912.4 L588.0,1914.9 L588.9,1917.3 L589.8,1919.8 L590.8,1922.3 L591.7,1924.7 L592.8,1927.2 L593.8,1929.6 L594.9,1932.0 L596.0,1934.4 L597.1,1936.7 L598.3,1939.1 L599.5,1941.4 L600.8,1943.7 L602.1,1946.0 L603.5,1948.3 L604.9,1950.5 L606.4,1952.7 L607.9,1954.8 L609.5,1956.9 L611.2,1958.9 L612.9,1961.0 L614.7,1963.1 L616.5,1965.1 L618.5,1966.9 L620.5,1968.6 L622.5,1970.0 L624.7,1971.2 L627.1,1972.4 L629.5,1973.5 L632.1,1974.5 L634.7,1975.3 L637.3,1975.7 L639.9,1975.8 L642.5,1975.8 L645.1,1975.8 L647.7,1975.8 L650.4,1975.8 L653.0,1975.8 L655.7,1975.8 L658.3,1975.8 L660.9,1975.6 L663.5,1975.1 L666.0,1974.6 L668.6,1973.9 L671.2,1973.1 L673.7,1972.4 L676.3,1971.6 L678.8,1970.9 L681.3,1970.1 L683.8,1969.3 L686.3,1968.4 L688.7,1967.5 L691.2,1966.6 L693.7,1965.7 L696.2,1964.8 L698.7,1964.0 L701.2,1963.3 L703.7,1962.5 L706.2,1961.8 L708.8,1961.1 L711.3,1960.4 L713.9,1959.8 L716.4,1959.1 L719.0,1958.5 L721.6,1957.9 L724.1,1957.4 L726.7,1956.9 L729.3,1956.4 L731.9,1956.0 L734.5,1955.5 L737.1,1955.1 L739.7,1954.7 L742.3,1954.3 L744.9,1953.9 L747.5,1953.6 L750.1,1953.3 L752.7,1953.0 L755.3,1952.7 L758.0,1952.5 L760.6,1952.3 L763.2,1952.1 L765.8,1951.9 L768.4,1951.7 L771.1,1951.6 L773.7,1951.4 L776.3,1951.3 L778.9,1951.1 L781.6,1951.0 L784.2,1950.9 L786.8,1950.8 L789.5,1950.7 L792.1,1950.6 L794.7,1950.5 L797.3,1950.4 L800.0,1950.4 L802.6,1950.4" fill="none" stroke="#3d66b0" stroke-width="3.3" stroke-dasharray="6.2 18.8" stroke-dashoffset="0" stroke-linejoin="round"/>
<path d="M802.6,1950.4 L805.2,1950.3 L807.9,1950.3 L810.5,1950.3 L813.1,1950.2 L815.8,1950.2 L818.4,1950.2 L821.0,1950.1 L823.6,1950.1 L826.3,1950.1 L828.9,1950.1 L831.5,1950.1 L834.2,1950.0 L836.8,1950.0 L839.4,1950.0 L842.1,1950.0 L844.7,1950.0 L847.3,1950.0 L849.9,1950.0 L852.6,1950.0 L855.2,1950.0 L857.8,1950.0 L860.5,1950.0 L863.1,1950.0 L865.7,1950.0 L868.3,1950.0 L871.0,1950.0 L873.6,1950.0 L876.2,1950.0 L878.9,1950.0 L881.5,1950.0 L884.1,1950.0 L886.8,1950.0 L889.4,1950.0 L892.0,1950.0 L894.6,1950.0 L897.3,1950.0 L899.9,1950.0 L902.5,1950.0 L905.2,1950.0 L907.8,1950.0 L910.4,1950.0 L913.1,1950.0 L915.7,1950.0 L918.3,1950.0 L920.9,1950.0 L923.6,1950.0 L926.2,1950.0 L928.8,1950.0 L931.5,1950.0 L934.1,1950.0 L936.7,1950.0 L939.4,1950.0 L942.0,1950.0 L944.6,1950.0 L947.2,1950.0 L949.9,1950.0 L952.5,1950.0 L955.1,1950.0 L957.8,1950.0 L960.4,1950.0 L963.0,1950.0 L965.6,1950.0 L968.3,1950.0 L970.9,1950.0 L973.5,1950.0 L976.2,1950.0 L978.8,1950.0 L981.4,1950.0 L984.1,1950.0 L986.7,1950.0 L989.3,1950.0 L991.9,1950.0 L994.6,1950.0 L997.2,1950.0 L999.8,1950.0 L1002.5,1950.0 L1005.1,1950.0 L1007.7,1950.0 L1010.4,1950.0 L1013.0,1950.0 L1015.6,1950.0 L1018.2,1950.0 L1020.9,1950.0 L1023.5,1950.0 L1026.1,1950.0 L1028.8,1950.0 L1031.4,1950.0 L1034.0,1950.0 L1036.7,1950.0 L1039.3,1950.0 L1041.9,1950.0 L1044.5,1950.0 L1047.2,1950.0 L1049.8,1950.0 L1052.4,1950.0 L1055.1,1950.0 L1057.7,1950.0 L1060.3,1950.0 L1063.0,1950.0 L1065.6,1950.0 L1068.2,1950.0 L1070.8,1950.0 L1073.5,1950.0 L1076.1,1950.0 L1078.7,1950.0 L1081.4,1950.0 L1084.0,1950.0 L1086.6,1950.0 L1089.2,1950.0 L1091.9,1950.0 L1094.5,1950.0 L1097.1,1950.0 L1099.8,1950.0 L1102.4,1950.0 L1105.0,1950.0 L1107.7,1950.0 L1110.3,1950.0 L1112.9,1950.0 L1115.5,1950.0 L1118.2,1950.0 L1120.8,1950.0 L1123.4,1950.0 L1126.1,1950.0 L1128.7,1950.0 L1131.3,1950.0 L1134.0,1950.0 L1136.6,1950.0 L1139.2,1950.0 L1141.8,1950.0 L1144.5,1950.0 L1147.1,1950.0 L1149.7,1950.0 L1152.4,1950.0 L1155.0,1950.0 L1157.6,1950.0 L1160.3,1950.0 L1162.9,1950.0 L1165.5,1950.0 L1168.1,1950.0 L1170.8,1950.0 L1173.4,1950.0 L1176.0,1950.0 L1178.7,1950.0 L1181.3,1950.0 L1183.9,1950.0 L1186.6,1950.0 L1189.2,1950.0 L1191.8,1950.0 L1194.4,1950.0 L1197.1,1950.0 L1199.7,1950.0 L1202.3,1950.0 L1205.0,1950.0 L1207.6,1950.0 L1210.2,1950.0 L1212.8,1950.0 L1215.5,1950.0 L1218.1,1950.0 L1220.7,1950.0 L1223.4,1950.0 L1226.0,1950.0 L1228.6,1950.0 L1231.3,1950.0 L1233.9,1950.0 L1236.5,1950.0 L1239.1,1950.0 L1241.8,1950.0 L1244.4,1950.0 L1247.0,1950.0 L1249.7,1950.0 L1252.3,1950.0 L1254.9,1950.0 L1257.6,1950.0 L1260.2,1950.0 L1262.8,1950.0 L1265.4,1950.0 L1268.1,1950.0 L1270.7,1950.0 L1273.3,1950.0 L1276.0,1950.0 L1278.6,1950.0 L1281.2,1950.0 L1283.9,1950.0 L1286.5,1950.0 L1289.1,1950.0 L1291.7,1950.0 L1294.4,1950.0 L1297.0,1950.0 L1299.6,1950.0 L1302.3,1950.0 L1304.9,1950.0 L1307.5,1950.0 L1310.2,1950.0 L1312.8,1950.0 L1315.4,1950.0 L1318.0,1950.0 L1320.7,1950.0 L1323.3,1950.0 L1325.9,1950.0 L1328.6,1950.0 L1331.2,1950.0 L1333.8,1950.0 L1336.5,1950.0 L1339.1,1950.0 L1341.7,1950.0 L1344.3,1950.0 L1347.0,1950.0 L1349.6,1950.0" fill="none" stroke="#3d66b0" stroke-width="3.3" stroke-dasharray="6.2 18.8" stroke-dashoffset="0" stroke-linejoin="round"/>
<text transform="translate(246.8,2036.1) scale(0.975,1)" text-anchor="end">−5</text>
<text transform="translate(246.8,1966.6) scale(0.975,1)" text-anchor="end">0</text>
<text transform="translate(246.8,1897.0) scale(0.975,1)" text-anchor="end">5</text>
<text transform="translate(246.8,1827.5) scale(0.975,1)" text-anchor="end">10</text>
<text transform="translate(246.8,1757.9) scale(0.975,1)" text-anchor="end">15</text>
<text transform="translate(246.8,1688.4) scale(0.975,1)" text-anchor="end">20</text>
<text transform="translate(246.8,1618.8) scale(0.975,1)" text-anchor="end">25</text>
<text transform="translate(246.8,1549.3) scale(0.975,1)" text-anchor="end">30</text>
<text transform="translate(246.8,1479.8) scale(0.975,1)" text-anchor="end">35</text>
<text transform="translate(246.8,1410.2) scale(0.975,1)" text-anchor="end">40</text>
<text transform="translate(246.8,1340.6) scale(0.975,1)" text-anchor="end">45</text>
<text transform="translate(246.8,1271.1) scale(0.975,1)" text-anchor="end">50</text>
<text transform="translate(246.8,1201.5) scale(0.975,1)" text-anchor="end">55</text>
<text transform="translate(267.3,2111.4) scale(0.975,1)" text-anchor="middle">0</text>
<text transform="translate(483.8,2111.4) scale(0.975,1)" text-anchor="middle">2</text>
<text transform="translate(700.3,2111.4) scale(0.975,1)" text-anchor="middle">4</text>
<text transform="translate(916.7,2111.4) scale(0.975,1)" text-anchor="middle">6</text>
<text transform="translate(1133.2,2111.4) scale(0.975,1)" text-anchor="middle">8</text>
<text transform="translate(1350.9,2111.4) scale(0.975,1)" text-anchor="middle">10</text>
<path d="M950.2,1335.3H1045.6" stroke="#45464b" stroke-width="2.6" fill="none"/>
<path d="M950.2,1394.6H1045.6" stroke="#d8324a" stroke-width="3.1" stroke-dasharray="22.6 19.3" fill="none"/>
<path d="M950.2,1448.5H1045.6" stroke="#3d66b0" stroke-width="3.1" stroke-dasharray="6.3 18.6" fill="none"/>
<text transform="translate(1063.5,1347.3) scale(0.975,1)" text-anchor="start"><tspan font-style="italic">x</tspan>/mm</text>
<text transform="translate(1063.5,1407.4) scale(0.975,1)" text-anchor="start"><tspan font-style="italic">v</tspan>/(mm·s<tspan font-size="31" dy="-19">−1</tspan><tspan dy="19">)</tspan></text>
<text transform="translate(1063.5,1459.0) scale(0.975,1)" text-anchor="start"><tspan font-style="italic">n</tspan>/(r·s<tspan font-size="31" dy="-19">−1</tspan><tspan dy="19">)</tspan></text>
<text transform="translate(808.2,2195.1) scale(0.975,1)" text-anchor="middle"><tspan font-style="italic">t</tspan>/s</text>
<text transform="translate(806.8,2277.5) scale(0.975,1)" text-anchor="middle">(b) <tspan dy="3">滑模变结构控制</tspan></text>
<text transform="translate(142.8,1582.4) rotate(-90) scale(0.975,1)" text-anchor="middle" font-style="italic">x, v, n</text>
<rect x="267.05" y="2339.9" width="1082.55" height="877.0" fill="none" stroke="#0d0d0d" stroke-width="4.0"/>
<path d="M267.05,3143.1H284.5 M267.05,3070.2H284.5 M267.05,2997.2H284.5 M267.05,2924.2H284.5 M267.05,2851.3H284.5 M267.05,2778.3H284.5 M267.05,2705.4H284.5 M267.05,2632.4H284.5 M267.05,2559.5H284.5 M267.05,2486.6H284.5 M267.05,2413.6H284.5 M484.1,3216.9v-18 M700.6,3216.9v-18 M917.0,3216.9v-18 M1133.5,3216.9v-18 " stroke="#0d0d0d" stroke-width="4.0" fill="none"/>
<path d="M267.3,3143.1 L268.4,3143.1 L269.5,3143.1 L270.5,3143.1 L271.6,3143.1 L272.7,3143.1 L273.8,3142.5 L274.9,3139.7 L276.0,3136.4 L277.0,3133.0 L278.1,3129.6 L279.2,3126.2 L280.3,3122.8 L281.4,3119.5 L282.5,3116.1 L283.5,3112.7 L284.6,3109.3 L285.7,3105.9 L286.8,3102.5 L287.9,3099.1 L288.9,3095.7 L290.0,3092.4 L291.1,3089.0 L292.2,3085.6 L293.3,3082.2 L294.4,3078.8 L295.4,3075.4 L296.5,3072.0 L297.6,3068.6 L298.7,3065.3 L299.8,3061.9 L300.9,3058.5 L301.9,3055.1 L303.0,3051.7 L304.1,3048.3 L305.2,3044.9 L306.3,3041.5 L307.3,3038.1 L308.4,3034.8 L309.5,3031.4 L310.6,3028.0 L311.7,3024.6 L312.8,3021.2 L313.8,3017.8 L314.9,3014.4 L316.0,3011.0 L317.1,3007.7 L318.2,3004.3 L319.3,3000.9 L320.3,2997.5 L321.4,2994.1 L322.5,2990.7 L323.6,2987.3 L324.7,2983.9 L325.7,2980.6 L326.8,2977.2 L327.9,2973.8 L329.0,2970.4 L330.1,2967.0 L331.2,2963.6 L332.2,2960.2 L333.3,2956.8 L334.4,2953.5 L335.5,2950.1 L336.6,2946.7 L337.7,2943.3 L338.7,2939.9 L339.8,2936.5 L340.9,2933.1 L342.0,2929.7 L343.1,2926.4 L344.2,2923.0 L345.2,2919.6 L346.3,2916.2 L347.4,2912.8 L348.5,2909.4 L349.6,2906.0 L350.6,2902.6 L351.7,2899.2 L352.8,2895.9 L353.9,2892.5 L355.0,2889.1 L356.1,2885.7 L357.1,2882.3 L358.2,2878.9 L359.3,2875.5 L360.4,2872.1 L361.5,2868.8 L362.6,2865.4 L363.6,2862.0 L364.7,2858.6 L365.8,2855.2 L366.9,2851.8 L368.0,2848.4 L369.0,2845.0 L370.1,2841.7 L371.2,2838.3 L372.3,2834.9 L373.4,2831.5 L374.5,2828.1 L375.5,2824.7 L376.6,2821.3 L377.7,2817.9 L378.8,2814.6 L379.9,2811.2 L381.0,2807.8 L382.0,2804.4 L383.1,2801.0 L384.2,2797.6 L385.3,2794.2 L386.4,2790.8 L387.4,2787.5 L388.5,2784.1 L389.6,2780.7 L390.7,2777.3 L391.8,2773.9 L392.9,2770.5 L393.9,2767.1 L395.0,2763.7 L396.1,2760.3 L397.2,2757.0 L398.3,2753.6 L399.4,2750.2 L400.4,2746.8 L401.5,2743.4 L402.6,2740.0 L403.7,2736.6 L404.8,2733.2 L405.8,2729.9 L406.9,2726.5 L408.0,2723.1 L409.1,2719.7 L410.2,2716.3 L411.3,2712.9 L412.3,2709.5 L413.4,2706.1 L414.5,2702.8 L415.6,2699.4 L416.7,2696.0 L417.8,2692.6 L418.8,2689.2 L419.9,2685.8 L421.0,2682.4 L422.1,2679.0 L423.2,2675.7 L424.2,2672.3 L425.3,2668.9 L426.4,2665.5 L427.5,2662.1 L428.6,2658.7 L429.7,2655.3 L430.7,2651.9 L431.8,2648.6 L432.9,2645.2 L434.0,2641.8 L435.1,2638.4 L436.2,2635.0 L437.2,2631.6 L438.3,2628.2 L439.4,2624.8 L440.5,2621.4 L441.6,2618.1 L442.6,2614.7 L443.7,2611.3 L444.8,2607.9 L445.9,2604.5 L447.0,2601.1 L448.1,2597.7 L449.1,2594.3 L450.2,2591.0 L451.3,2587.6 L452.4,2584.2 L453.5,2580.8 L454.6,2577.4 L455.6,2574.0 L456.7,2570.6 L457.8,2567.2 L458.9,2563.9 L460.0,2560.5 L461.0,2557.1 L462.1,2553.7 L463.2,2550.3 L464.3,2546.9 L465.4,2543.5 L466.5,2540.1 L467.5,2536.8 L468.6,2533.4 L469.7,2530.0 L470.8,2526.6 L471.9,2523.2 L473.0,2519.8 L474.0,2516.4 L475.1,2513.1 L476.2,2509.7 L477.3,2506.3 L478.4,2502.9 L479.5,2499.6 L480.5,2496.2 L481.6,2492.8 L482.7,2489.5 L483.8,2486.1 L484.9,2482.9 L485.9,2479.9 L487.0,2476.9 L488.1,2474.1 L489.2,2471.4 L490.3,2468.8 L491.4,2466.4 L492.4,2464.0 L493.5,2461.8 L494.6,2459.7 L495.7,2457.7 L496.8,2455.8 L497.9,2454.0 L498.9,2452.2 L500.0,2450.4 L501.1,2448.7 L502.2,2447.1 L503.3,2445.6 L504.3,2444.1 L505.4,2442.6 L506.5,2441.3 L507.6,2439.9 L508.7,2438.7 L509.8,2437.5 L510.8,2436.4 L511.9,2435.3 L513.0,2434.2 L514.1,2433.2 L515.2,2432.2 L516.3,2431.3 L517.3,2430.4 L518.4,2429.5 L519.5,2428.6 L520.6,2427.8 L521.7,2427.0 L522.7,2426.2 L523.8,2425.5 L524.9,2424.8 L526.0,2424.2 L527.1,2423.6 L528.2,2423.0 L529.2,2422.4 L530.3,2421.9 L531.4,2421.5 L532.5,2421.0 L533.6,2420.6 L534.7,2420.2 L535.7,2419.8 L536.8,2419.5 L537.9,2419.2 L539.0,2418.8 L540.1,2418.5 L541.1,2418.2 L542.2,2417.9 L543.3,2417.6 L544.4,2417.4 L545.5,2417.1 L546.6,2416.8 L547.6,2416.6 L548.7,2416.4 L549.8,2416.2 L550.9,2416.0 L552.0,2415.8 L553.1,2415.6 L554.1,2415.5 L555.2,2415.3 L556.3,2415.2 L557.4,2415.1 L558.5,2415.0 L559.5,2414.9 L560.6,2414.8 L561.7,2414.7 L562.8,2414.6 L563.9,2414.5 L565.0,2414.5 L566.0,2414.4 L567.1,2414.3 L568.2,2414.3 L569.3,2414.2 L570.4,2414.2 L571.5,2414.1 L572.5,2414.1 L573.6,2414.0 L574.7,2414.0 L575.8,2413.9 L576.9,2413.9 L577.9,2413.9 L579.0,2413.8 L580.1,2413.8 L581.2,2413.7 L582.3,2413.7 L583.4,2413.7 L584.4,2413.6 L585.5,2413.6 L586.6,2413.6 L587.7,2413.5 L588.8,2413.5 L589.9,2413.5 L590.9,2413.5 L592.0,2413.4 L593.1,2413.4 L594.2,2413.4 L595.3,2413.3 L596.3,2413.3 L597.4,2413.3 L598.5,2413.3 L599.6,2413.3 L600.7,2413.2 L601.8,2413.2 L602.8,2413.2 L603.9,2413.2 L605.0,2413.2 L606.1,2413.1 L607.2,2413.1 L608.3,2413.1 L609.3,2413.1 L610.4,2413.1 L611.5,2413.1 L612.6,2413.1 L613.7,2413.0 L614.8,2413.0 L615.8,2413.0 L616.9,2413.0 L618.0,2413.0 L619.1,2413.0 L620.2,2413.0 L621.2,2413.0 L622.3,2413.0 L623.4,2413.0 L624.5,2413.0 L625.6,2413.0 L626.7,2412.9 L627.7,2412.9 L628.8,2412.9 L629.9,2412.9 L631.0,2412.9 L632.1,2412.9 L633.2,2412.9 L634.2,2412.9 L635.3,2412.9 L636.4,2412.9 L637.5,2412.9 L638.6,2412.9 L639.6,2412.9 L640.7,2412.9 L641.8,2412.9 L642.9,2412.9 L644.0,2412.9 L645.1,2412.9 L646.1,2412.9 L647.2,2412.9 L648.3,2412.9 L649.4,2412.8 L650.5,2412.8 L651.6,2412.8 L652.6,2412.8 L653.7,2412.8 L654.8,2412.8 L655.9,2412.8 L657.0,2412.8 L658.0,2412.8 L659.1,2412.8 L660.2,2412.8 L661.3,2412.8 L662.4,2412.8 L663.5,2412.8 L664.5,2412.8 L665.6,2412.8 L666.7,2412.8 L667.8,2412.8 L668.9,2412.8 L670.0,2412.8 L671.0,2412.8 L672.1,2412.8 L673.2,2412.8 L674.3,2412.8 L675.4,2412.8 L676.4,2412.8 L677.5,2412.8 L678.6,2412.8 L679.7,2412.8 L680.8,2412.8 L681.9,2412.8 L682.9,2412.8 L684.0,2412.8 L685.1,2412.8 L686.2,2412.8 L687.3,2412.8 L688.4,2412.8 L689.4,2412.8 L690.5,2412.8 L691.6,2412.8 L692.7,2412.8 L693.8,2412.8 L694.8,2412.8 L695.9,2412.8 L697.0,2412.8 L698.1,2412.8 L699.2,2412.8 L700.3,2412.8 L701.3,2412.8 L702.4,2412.8 L703.5,2412.8 L704.6,2412.8 L705.7,2412.8 L706.8,2412.8 L707.8,2412.8 L708.9,2412.8 L710.0,2412.8 L711.1,2412.8 L712.2,2412.8 L713.2,2412.8 L714.3,2412.8 L715.4,2412.8 L716.5,2412.8 L717.6,2412.8 L718.7,2412.8 L719.7,2412.8 L720.8,2412.8 L721.9,2412.8 L723.0,2412.8 L724.1,2412.8 L725.2,2412.8 L726.2,2412.8 L727.3,2412.8 L728.4,2412.8 L729.5,2412.8 L730.6,2412.8 L731.6,2412.8 L732.7,2412.8 L733.8,2412.8 L734.9,2412.8 L736.0,2412.8 L737.1,2412.8 L738.1,2412.8 L739.2,2412.8 L740.3,2412.8 L741.4,2412.8 L742.5,2412.8 L743.6,2412.8 L744.6,2412.8 L745.7,2412.8 L746.8,2412.8 L747.9,2412.8 L749.0,2412.8 L750.1,2412.8 L751.1,2412.8 L752.2,2412.8 L753.3,2412.8 L754.4,2412.8 L781.4,2412.8 L808.5,2412.8 L835.6,2412.8 L862.6,2412.8 L889.7,2412.8 L916.7,2412.8 L943.8,2412.8 L970.9,2412.8 L997.9,2412.8 L1025.0,2412.8 L1052.0,2412.8 L1079.1,2412.8 L1106.2,2412.8 L1133.2,2412.8 L1160.3,2412.8 L1187.3,2412.8 L1214.4,2412.8 L1241.5,2412.8 L1268.5,2412.8 L1295.6,2412.8 L1322.6,2412.8 L1349.7,2412.8" fill="none" stroke="#45464b" stroke-width="3.4" stroke-linejoin="round"/>
<path d="M272.4,3123.3 L272.4,2850.0 L272.2,2838.0 L273.2,2828.0 L277.7,2814.4 L300.0,2814.3 L467.3,2814.2 L485.5,2817.8" fill="none" stroke="#d8324a" stroke-width="3.3" stroke-dasharray="21 21"/>
<path d="M266.9,3128.4 L269.1,3142.3" fill="none" stroke="#d8324a" stroke-width="3.3"/>
<path d="M484.2,2840.4 L487.3,2856.1 M490.6,2866.4 L490.9,2882.8 M487.3,2877.3 L489.1,2892.8 M493.3,2904.6 L494.0,2925.6 M495.5,2937.4 L496.9,2957.4 M499.1,2958.3 L501.5,2976.5 M497.5,2957.4 L499.5,2976.0 M506.4,2976.5 L503.7,2997.5 M507.7,2983.8 L508.2,3003.8 M505.5,2980.0 L506.5,2998.0 M511.3,3007.5 L511.3,3027.5 L508.5,3027.0 L511.0,3020.0 M511.9,3038.4 L516.4,3043.0 M518.6,3063.0 L523.7,3069.3 M522.8,3083.9 L526.4,3073.9 L530.0,3093.9 M532.4,3088.4 L536.4,3104.8 M536.4,3108.5 L542.8,3118.5 M548.3,3116.7 L553.7,3134.9 M557.4,3126.7 L572.8,3139.4 M578.3,3136.7 L590.1,3138.9 M607.4,3140.3 L626.5,3144.3" fill="none" stroke="#d8324a" stroke-width="3.3"/>
<path d="M646.5,3143.3 L1349.6,3143.3" fill="none" stroke="#d8324a" stroke-width="3.3" stroke-dasharray="21.4 20.3"/>
<path d="M266.8,3142.4 L266.8,3139.7 L266.8,3137.0 L266.8,3134.3 L266.8,3131.5 L266.8,3128.8 L266.8,3126.1 L266.8,3123.4 L266.8,3120.7 L266.8,3118.0 L266.8,3115.2 L266.8,3112.5 L266.8,3109.8 L266.8,3107.1 L266.8,3104.4 L266.8,3101.7 L266.8,3098.9 L266.8,3096.2 L266.8,3093.5 L266.8,3090.8 L266.8,3088.1 L266.8,3085.4 L266.8,3082.7 L266.8,3079.9 L266.8,3077.2 L266.8,3074.5 L266.8,3071.8 L266.8,3069.1 L266.8,3066.4 L266.8,3063.6 L266.8,3060.9 L266.8,3058.2 L266.8,3055.5 L266.8,3052.8 L266.8,3050.1 L266.8,3047.3 L266.8,3044.6 L266.8,3041.9 L266.8,3039.2 L266.8,3036.5 L266.8,3033.8 L266.8,3031.1 L266.8,3028.3 L266.8,3025.6 L266.8,3022.9 L266.8,3020.2 L266.8,3017.5 L266.8,3014.8 L266.8,3012.0 L266.8,3009.3 L266.8,3006.6 L266.8,3003.9 L266.8,3001.2 L266.8,2998.5 L266.8,2995.7 L266.8,2993.0 L266.8,2990.3 L266.8,2987.6 L266.8,2984.9 L266.8,2982.2 L266.8,2979.5 L266.8,2976.7 L266.8,2974.0 L266.8,2971.3 L266.8,2968.6 L266.8,2965.9 L266.8,2963.2 L266.8,2960.4 L266.8,2957.7 L266.8,2955.0 L266.8,2952.3 L266.8,2949.6 L266.8,2946.9 L266.8,2944.2 L266.8,2941.4 L266.8,2938.7 L266.8,2936.0 L266.8,2933.3 L266.8,2930.6 L266.8,2927.9 L266.8,2925.1 L266.8,2922.4 L266.8,2919.7 L266.8,2917.0 L266.8,2914.3 L266.8,2911.6 L266.8,2908.8 L266.8,2906.1 L266.8,2903.4 L266.8,2900.7 L266.8,2898.0 L266.8,2895.3 L266.8,2892.6 L266.8,2889.8 L266.8,2887.1 L266.8,2884.4 L266.8,2881.7 L266.8,2879.0 L266.8,2876.3 L266.8,2873.5 L266.8,2870.8 L266.8,2868.1 L266.8,2865.4 L266.8,2862.7 L266.8,2860.0 L266.8,2857.2 L266.8,2854.5 L266.8,2851.8 L266.8,2849.1 L266.8,2846.4 L266.9,2843.7 L266.9,2841.0 L266.9,2838.2 L266.9,2835.5 L266.9,2832.8 L266.9,2830.1 L266.9,2827.4 L266.9,2824.7 L266.9,2821.9 L266.9,2819.2 L266.9,2816.5 L266.9,2813.8 L266.9,2811.1 L266.9,2808.4 L266.9,2805.6 L266.9,2802.9 L267.0,2800.2 L267.0,2797.5 L267.0,2794.8 L267.0,2792.1 L267.0,2789.4 L267.0,2786.6 L267.0,2783.9 L267.0,2781.2 L267.0,2778.5 L267.0,2775.8 L267.0,2773.1 L267.0,2770.3 L267.1,2767.6 L267.1,2764.9 L267.1,2762.2 L267.1,2759.5 L267.1,2756.8 L267.1,2754.0 L267.1,2751.3 L267.1,2748.6 L267.1,2745.9 L267.1,2743.2 L267.2,2740.5 L267.2,2737.8 L267.2,2735.0 L267.2,2732.3 L267.2,2729.6 L267.2,2726.9 L267.2,2724.2 L267.2,2721.5 L267.2,2718.7 L267.2,2716.0 L267.3,2713.3 L267.3,2710.6 L267.3,2707.9 L267.3,2705.2 L267.3,2702.4 L267.3,2699.7 L267.3,2697.0 L267.3,2694.3 L267.3,2691.6 L267.3,2688.9 L267.4,2686.2 L267.4,2683.4 L267.4,2680.7 L267.4,2678.0 L267.4,2675.3 L267.4,2672.6 L267.4,2669.9 L267.5,2667.1 L267.5,2664.4 L267.5,2661.7 L267.5,2659.0 L267.5,2656.3 L267.5,2653.6 L267.6,2650.9 L267.6,2648.1 L267.6,2645.4 L267.6,2642.7 L267.6,2640.0 L267.7,2637.3 L267.7,2634.6 L267.7,2631.8 L267.7,2629.1 L267.7,2626.4 L267.8,2623.7 L267.8,2621.0 L267.8,2618.3 L267.8,2615.5 L267.8,2612.8 L267.9,2610.1 L267.9,2607.4 L267.9,2604.7 L267.9,2602.0 L267.9,2599.3 L268.0,2596.5 L268.0,2593.8 L268.0,2591.1 L268.0,2588.4 L268.1,2585.7 L268.1,2583.0 L268.1,2580.2 L268.1,2577.5 L268.1,2574.8 L268.2,2572.1 L268.2,2569.4 L268.2,2566.7 L268.2,2563.9 L268.2,2561.2 L268.2,2558.5 L268.3,2555.8 L268.3,2553.1 L268.3,2550.4 L268.3,2547.7 L268.3,2544.9 L268.3,2542.2 L268.4,2539.5 L268.4,2536.8 L268.4,2534.1 L268.4,2531.4 L268.4,2528.6 L268.4,2525.9 L268.4,2523.2 L268.5,2520.5 L268.5,2517.8 L268.5,2515.1 L268.5,2512.4 L268.5,2509.6 L268.5,2506.9 L268.5,2504.2 L268.6,2501.5 L268.6,2498.8 L268.6,2496.1 L268.6,2493.3 L268.6,2490.6 L268.6,2487.9 L268.6,2485.2 L268.7,2482.5 L268.7,2479.8 L268.7,2477.0 L268.7,2474.3 L268.7,2471.6 L268.8,2468.9 L268.8,2466.2 L268.8,2463.5 L268.8,2460.8 L268.8,2458.0 L268.9,2455.3 L268.9,2452.6 L268.9,2449.9 L268.9,2447.2 L268.9,2444.5 L269.0,2441.7 L269.0,2439.0 L269.0,2436.3 L269.0,2433.6 L269.1,2430.9 L269.1,2428.1 L269.2,2425.4 L269.2,2422.7 L269.3,2420.0 L269.5,2417.1 L270.0,2414.6 L272.2,2413.0 L274.8,2412.9 L277.3,2412.9 L279.8,2412.9 L282.4,2412.9 L285.1,2412.9 L287.7,2412.9 L290.3,2412.9 L293.0,2412.9 L295.7,2412.9 L298.4,2412.9 L301.2,2412.9 L303.9,2412.9 L306.6,2412.9 L309.4,2412.9 L312.2,2412.9 L315.0,2412.9 L317.7,2412.9 L320.5,2412.9 L323.3,2412.9 L326.1,2412.9 L328.9,2412.9 L331.7,2412.9 L334.4,2412.9 L337.2,2412.9 L340.0,2412.9 L342.7,2412.9 L345.5,2412.9 L348.2,2412.9 L350.9,2412.9 L353.7,2412.9 L356.4,2412.9 L359.1,2412.9 L361.8,2412.9 L364.5,2412.9 L367.2,2412.9 L370.0,2412.9 L372.7,2412.9 L375.4,2412.9 L378.1,2412.9 L380.8,2412.9 L383.5,2412.9 L386.3,2412.9 L389.0,2412.9 L391.7,2412.9 L394.4,2412.9 L397.1,2412.9 L399.8,2412.9 L402.6,2412.9 L405.3,2412.9 L408.0,2412.9 L410.7,2412.9 L413.4,2412.9 L416.1,2412.9 L418.9,2412.9 L421.6,2412.9 L424.3,2412.9 L427.0,2412.9 L429.7,2412.9 L432.4,2412.9 L435.1,2412.9 L437.9,2412.9 L440.6,2412.9 L443.3,2412.9 L446.0,2412.9 L448.7,2412.9 L451.4,2412.9 L454.2,2412.9 L456.9,2412.9 L459.6,2412.9 L462.3,2412.9 L465.0,2412.9 L467.7,2412.9 L470.4,2412.9 L473.4,2413.0 L476.4,2413.1 L479.0,2413.3 L480.7,2414.0 L482.0,2416.8 L482.6,2419.6 L482.8,2422.3 L483.0,2425.1 L483.1,2427.8 L483.2,2430.5 L483.3,2433.2 L483.4,2435.9 L483.5,2438.6 L483.6,2441.3 L483.6,2444.0 L483.7,2446.8 L483.8,2449.5 L483.8,2452.2 L483.9,2454.9 L483.9,2457.6 L484.0,2460.3 L484.1,2463.1 L484.1,2465.8 L484.2,2468.5 L484.3,2471.2 L484.4,2473.9 L484.5,2476.6 L484.6,2479.3 L484.7,2482.1 L484.8,2484.8 L484.9,2487.5 L485.0,2490.2 L485.1,2492.9 L485.2,2495.6 L485.3,2498.3 L485.4,2501.1 L485.5,2503.8 L485.7,2506.5 L485.8,2509.2 L485.9,2511.9 L486.0,2514.6 L486.1,2517.3 L486.3,2520.0 L486.4,2522.8 L486.5,2525.5 L486.7,2528.2 L486.8,2530.9 L487.0,2533.6 L487.1,2536.3 L487.2,2539.0 L487.4,2541.7 L487.5,2544.5 L487.7,2547.2 L487.9,2549.9 L488.0,2552.6 L488.2,2555.3 L488.4,2558.0 L488.6,2560.7 L488.7,2563.4 L488.9,2566.1 L489.1,2568.8 L489.3,2571.6 L489.4,2574.3 L489.6,2577.0 L489.8,2579.7 L489.9,2582.4 L490.1,2585.1 L490.2,2587.8 L490.4,2590.5 L490.5,2593.2 L490.7,2596.0 L490.8,2598.7 L490.9,2601.4 L491.1,2604.1 L491.2,2606.8 L491.3,2609.5 L491.5,2612.2 L491.6,2614.9 L491.8,2617.7 L492.0,2620.4 L492.1,2623.1 L492.3,2625.8 L492.5,2628.5 L492.7,2631.2 L492.9,2633.9 L493.1,2636.6 L493.3,2639.3 L493.4,2642.0 L493.6,2644.7 L493.8,2647.5 L494.0,2650.2 L494.2,2652.9 L494.4,2655.6 L494.6,2658.3 L494.7,2661.0 L494.9,2663.7 L495.0,2666.4 L495.2,2669.1 L495.3,2671.9 L495.4,2674.6 L495.6,2677.3 L495.7,2680.0 L495.8,2682.7 L495.9,2685.4 L496.0,2688.1 L496.2,2690.8 L496.3,2693.6 L496.4,2696.3 L496.5,2699.0 L496.7,2701.7 L496.8,2704.4 L497.0,2707.1 L497.1,2709.8 L497.3,2712.5 L497.5,2715.3 L497.6,2718.0 L497.8,2720.7 L498.0,2723.4 L498.2,2726.1 L498.4,2728.8 L498.6,2731.5 L498.8,2734.2 L499.0,2736.9 L499.2,2739.6 L499.4,2742.3 L499.6,2745.0 L499.8,2747.8 L500.0,2750.5 L500.2,2753.2 L500.4,2755.9 L500.6,2758.6 L500.8,2761.3 L501.0,2764.0 L501.1,2766.7 L501.3,2769.4 L501.5,2772.1 L501.7,2774.8 L501.9,2777.6 L502.1,2780.3 L502.3,2783.0 L502.5,2785.7 L502.7,2788.4 L502.9,2791.1 L503.1,2793.8 L503.3,2796.5 L503.5,2799.2 L503.7,2801.9 L503.9,2804.6 L504.1,2807.3 L504.3,2810.1 L504.6,2812.8 L504.8,2815.5 L505.0,2818.2 L505.3,2820.9 L505.5,2823.6 L505.7,2826.3 L506.0,2829.0 L506.2,2831.7 L506.4,2834.4 L506.7,2837.1 L506.9,2839.8 L507.2,2842.5 L507.4,2845.2 L507.7,2847.9 L507.9,2850.6 L508.2,2853.3 L508.4,2856.0 L508.6,2858.7 L508.9,2861.5 L509.1,2864.2 L509.4,2866.9 L509.6,2869.6 L509.9,2872.3 L510.1,2875.0 L510.4,2877.7 L510.6,2880.4 L510.9,2883.1 L511.1,2885.8 L511.4,2888.5 L511.7,2891.2 L511.9,2893.9 L512.2,2896.6 L512.5,2899.3 L512.8,2902.0 L513.1,2904.7 L513.4,2907.4 L513.7,2910.1 L514.0,2912.8 L514.3,2915.5 L514.6,2918.2 L514.9,2920.9 L515.2,2923.6 L515.5,2926.3 L515.8,2929.0 L516.2,2931.7 L516.5,2934.4 L516.8,2937.1 L517.2,2939.8 L517.5,2942.5 L517.8,2945.2 L518.2,2947.8 L518.6,2950.5 L519.0,2953.2 L519.3,2955.9 L519.7,2958.6 L520.2,2961.3 L520.6,2964.0 L521.0,2966.7 L521.4,2969.3 L521.8,2972.0 L522.2,2974.7 L522.5,2977.4 L522.9,2980.1 L523.3,2982.8 L523.7,2985.5 L524.1,2988.2 L524.5,2990.9 L524.9,2993.5 L525.3,2996.2 L525.7,2998.9 L526.2,3001.6 L526.7,3004.2 L527.2,3006.9 L527.7,3009.6 L528.2,3012.3 L528.7,3014.9 L529.2,3017.6 L529.7,3020.2 L530.3,3022.9 L530.8,3025.6 L531.4,3028.2 L531.9,3030.9 L532.5,3033.5 L533.1,3036.2 L533.7,3038.9 L534.3,3041.5 L534.9,3044.1 L535.5,3046.8 L536.2,3049.4 L536.8,3052.1 L537.5,3054.7 L538.2,3057.3 L538.9,3060.0 L539.6,3062.6 L540.4,3065.2 L541.1,3067.8 L542.0,3070.4 L542.8,3072.9 L543.6,3075.5 L544.5,3078.1 L545.5,3080.7 L546.4,3083.2 L547.4,3085.8 L548.5,3088.3 L549.5,3090.8 L550.7,3093.2 L551.9,3095.6 L553.1,3098.1 L554.4,3100.5 L555.8,3102.9 L557.3,3105.2 L558.8,3107.5 L560.4,3109.7 L562.0,3111.9 L563.7,3113.9 L565.5,3115.8 L567.3,3117.8 L569.3,3119.8 L571.4,3121.7 L573.5,3123.5 L575.7,3125.2 L578.0,3126.9 L580.3,3128.4 L582.6,3129.7 L584.9,3130.9 L587.3,3131.9 L589.8,3132.9 L592.3,3133.7 L594.9,3134.6 L597.6,3135.4 L600.3,3136.1 L603.0,3136.7 L605.7,3137.3 L608.4,3137.7 L611.0,3138.1 L613.7,3138.5 L616.4,3138.8 L619.1,3139.1 L621.8,3139.4 L624.5,3139.7 L627.2,3139.9 L630.0,3140.1 L632.7,3140.3 L635.4,3140.4 L638.1,3140.6 L640.8,3140.7 L643.5,3140.8 L646.2,3140.9 L648.9,3141.0 L651.7,3141.1 L654.4,3141.2 L657.1,3141.3 L659.8,3141.4 L662.5,3141.5 L665.2,3141.6 L667.9,3141.6 L670.7,3141.7 L673.4,3141.8 L676.1,3141.8 L678.8,3141.9 L681.5,3141.9 L684.2,3141.9 L687.0,3142.0 L689.7,3142.0 L692.4,3142.0 L695.1,3142.1 L697.8,3142.1 L700.5,3142.1 L703.3,3142.1 L706.0,3142.2 L708.7,3142.2 L711.4,3142.2 L714.1,3142.2 L716.8,3142.3 L719.5,3142.3 L722.3,3142.3 L725.0,3142.3 L727.7,3142.3 L730.4,3142.3 L733.1,3142.4 L735.8,3142.4 L738.6,3142.4 L741.3,3142.4 L744.0,3142.4 L746.7,3142.4 L749.4,3142.4 L752.1,3142.4 L754.9,3142.4 L757.6,3142.4 L760.3,3142.4 L763.0,3142.4 L765.7,3142.4 L768.4,3142.4 L771.1,3142.4 L773.9,3142.4 L776.6,3142.4 L779.3,3142.4 L782.0,3142.4 L784.7,3142.4 L787.4,3142.4 L790.2,3142.4 L792.9,3142.4 L795.6,3142.4 L798.3,3142.4 L801.0,3142.4 L803.7,3142.4 L806.4,3142.4 L809.2,3142.4 L811.9,3142.4 L814.6,3142.4 L817.3,3142.4 L820.0,3142.4 L822.7,3142.4 L825.5,3142.4 L828.2,3142.4 L830.9,3142.4 L833.6,3142.4 L836.3,3142.4 L839.0,3142.4 L841.8,3142.4 L844.5,3142.4 L847.2,3142.4 L849.9,3142.4 L852.6,3142.4 L855.3,3142.4 L858.0,3142.4 L860.8,3142.4 L863.5,3142.4 L866.2,3142.4 L868.9,3142.4 L871.6,3142.4 L874.3,3142.4 L877.1,3142.4 L879.8,3142.4 L882.5,3142.4 L885.2,3142.4 L887.9,3142.4 L890.6,3142.4 L893.4,3142.4 L896.1,3142.4 L898.8,3142.4 L901.5,3142.4 L904.2,3142.4 L906.9,3142.4 L909.6,3142.4 L912.4,3142.4 L915.1,3142.4 L917.8,3142.4 L920.5,3142.4 L923.2,3142.4 L925.9,3142.4 L928.7,3142.4 L931.4,3142.4 L934.1,3142.4 L936.8,3142.4 L939.5,3142.4 L942.2,3142.4 L945.0,3142.4 L947.7,3142.4 L950.4,3142.4 L953.1,3142.4 L955.8,3142.4 L958.5,3142.4 L961.2,3142.4 L964.0,3142.4 L966.7,3142.4 L969.4,3142.4 L972.1,3142.4 L974.8,3142.4 L977.5,3142.4 L980.3,3142.4 L983.0,3142.4 L985.7,3142.4 L988.4,3142.4 L991.1,3142.4 L993.8,3142.4 L996.6,3142.4 L999.3,3142.4 L1002.0,3142.4 L1004.7,3142.4 L1007.4,3142.4 L1010.1,3142.4 L1012.8,3142.4 L1015.6,3142.4 L1018.3,3142.4 L1021.0,3142.4 L1023.7,3142.4 L1026.4,3142.4 L1029.1,3142.4 L1031.9,3142.4 L1034.6,3142.4 L1037.3,3142.4 L1040.0,3142.4 L1042.7,3142.4 L1045.4,3142.4 L1048.1,3142.4 L1050.9,3142.4 L1053.6,3142.4 L1056.3,3142.4 L1059.0,3142.4 L1061.7,3142.4 L1064.4,3142.4 L1067.2,3142.4 L1069.9,3142.4 L1072.6,3142.4 L1075.3,3142.4 L1078.0,3142.4 L1080.7,3142.4 L1083.5,3142.4 L1086.2,3142.4 L1088.9,3142.4 L1091.6,3142.4 L1094.3,3142.4 L1097.0,3142.4 L1099.7,3142.4 L1102.5,3142.4 L1105.2,3142.4 L1107.9,3142.4 L1110.6,3142.4 L1113.3,3142.4 L1116.0,3142.4 L1118.8,3142.4 L1121.5,3142.4 L1124.2,3142.4 L1126.9,3142.4 L1129.6,3142.4 L1132.3,3142.4 L1135.1,3142.4 L1137.8,3142.4 L1140.5,3142.4 L1143.2,3142.4 L1145.9,3142.4 L1148.6,3142.4 L1151.3,3142.4 L1154.1,3142.4 L1156.8,3142.4 L1159.5,3142.4 L1162.2,3142.4 L1164.9,3142.4 L1167.6,3142.4 L1170.4,3142.4 L1173.1,3142.4 L1175.8,3142.4 L1178.5,3142.4 L1181.2,3142.4 L1183.9,3142.4 L1186.7,3142.4 L1189.4,3142.4 L1192.1,3142.4 L1194.8,3142.4 L1197.5,3142.4 L1200.2,3142.4 L1202.9,3142.4 L1205.7,3142.4 L1208.4,3142.4 L1211.1,3142.4 L1213.8,3142.4 L1216.5,3142.4 L1219.2,3142.4 L1222.0,3142.4 L1224.7,3142.4 L1227.4,3142.4 L1230.1,3142.4 L1232.8,3142.4 L1235.5,3142.4 L1238.3,3142.4 L1241.0,3142.4 L1243.7,3142.4 L1246.4,3142.4 L1249.1,3142.4 L1251.8,3142.4 L1254.5,3142.4 L1257.3,3142.4 L1260.0,3142.4 L1262.7,3142.4 L1265.4,3142.4 L1268.1,3142.4 L1270.8,3142.4 L1273.6,3142.4 L1276.3,3142.4 L1279.0,3142.4 L1281.7,3142.4 L1284.4,3142.4 L1287.1,3142.4 L1289.9,3142.4 L1292.6,3142.4 L1295.3,3142.4 L1298.0,3142.4 L1300.7,3142.4 L1303.4,3142.4 L1306.1,3142.4 L1308.9,3142.4 L1311.6,3142.4 L1314.3,3142.4 L1317.0,3142.4 L1319.7,3142.4 L1322.4,3142.4 L1325.2,3142.4 L1327.9,3142.4 L1330.6,3142.4 L1333.3,3142.4 L1336.0,3142.4 L1338.7,3142.4 L1341.5,3142.4 L1344.2,3142.4 L1346.9,3142.4 L1349.6,3142.4" fill="none" stroke="#3d66b0" stroke-width="3.3" stroke-dasharray="6.4 18.6" stroke-dashoffset="0" stroke-linejoin="round"/>
<text transform="translate(246.8,3236.0) scale(0.975,1)" text-anchor="end">−5</text>
<text transform="translate(246.8,3166.4) scale(0.975,1)" text-anchor="end">0</text>
<text transform="translate(246.8,3096.8) scale(0.975,1)" text-anchor="end">5</text>
<text transform="translate(246.8,3027.2) scale(0.975,1)" text-anchor="end">10</text>
<text transform="translate(246.8,2957.7) scale(0.975,1)" text-anchor="end">15</text>
<text transform="translate(246.8,2888.1) scale(0.975,1)" text-anchor="end">20</text>
<text transform="translate(246.8,2818.5) scale(0.975,1)" text-anchor="end">25</text>
<text transform="translate(246.8,2749.0) scale(0.975,1)" text-anchor="end">30</text>
<text transform="translate(246.8,2679.4) scale(0.975,1)" text-anchor="end">35</text>
<text transform="translate(246.8,2609.8) scale(0.975,1)" text-anchor="end">40</text>
<text transform="translate(246.8,2540.2) scale(0.975,1)" text-anchor="end">45</text>
<text transform="translate(246.8,2470.7) scale(0.975,1)" text-anchor="end">50</text>
<text transform="translate(246.8,2401.1) scale(0.975,1)" text-anchor="end">55</text>
<text transform="translate(267.3,3274.1) scale(0.975,1)" text-anchor="middle">0</text>
<text transform="translate(483.8,3274.1) scale(0.975,1)" text-anchor="middle">2</text>
<text transform="translate(700.3,3274.1) scale(0.975,1)" text-anchor="middle">4</text>
<text transform="translate(916.7,3274.1) scale(0.975,1)" text-anchor="middle">6</text>
<text transform="translate(1133.2,3274.1) scale(0.975,1)" text-anchor="middle">8</text>
<text transform="translate(1350.9,3274.1) scale(0.975,1)" text-anchor="middle">10</text>
<path d="M950.2,2496.4H1045.6" stroke="#45464b" stroke-width="2.6" fill="none"/>
<path d="M950.2,2555.7H1045.6" stroke="#d8324a" stroke-width="3.1" stroke-dasharray="22.6 19.3" fill="none"/>
<path d="M950.2,2609.2H1045.6" stroke="#3d66b0" stroke-width="3.1" stroke-dasharray="6.3 18.6" fill="none"/>
<text transform="translate(1063.5,2508.4) scale(0.975,1)" text-anchor="start"><tspan font-style="italic">x</tspan>/mm</text>
<text transform="translate(1063.5,2568.1) scale(0.975,1)" text-anchor="start"><tspan font-style="italic">v</tspan>/(mm·s<tspan font-size="31" dy="-19">−1</tspan><tspan dy="19">)</tspan></text>
<text transform="translate(1063.5,2619.8) scale(0.975,1)" text-anchor="start"><tspan font-style="italic">n</tspan>/(r·s<tspan font-size="31" dy="-19">−1</tspan><tspan dy="19">)</tspan></text>
<text transform="translate(808.2,3356.9) scale(0.975,1)" text-anchor="middle"><tspan font-style="italic">t</tspan>/s</text>
<text transform="translate(806.8,3439.7) scale(0.975,1)" text-anchor="middle">(c) <tspan dy="3">反演控制</tspan></text>
<text transform="translate(142.8,2782) rotate(-90) scale(0.975,1)" text-anchor="middle" font-style="italic">x, v, n</text>
</svg>
</body></html>
